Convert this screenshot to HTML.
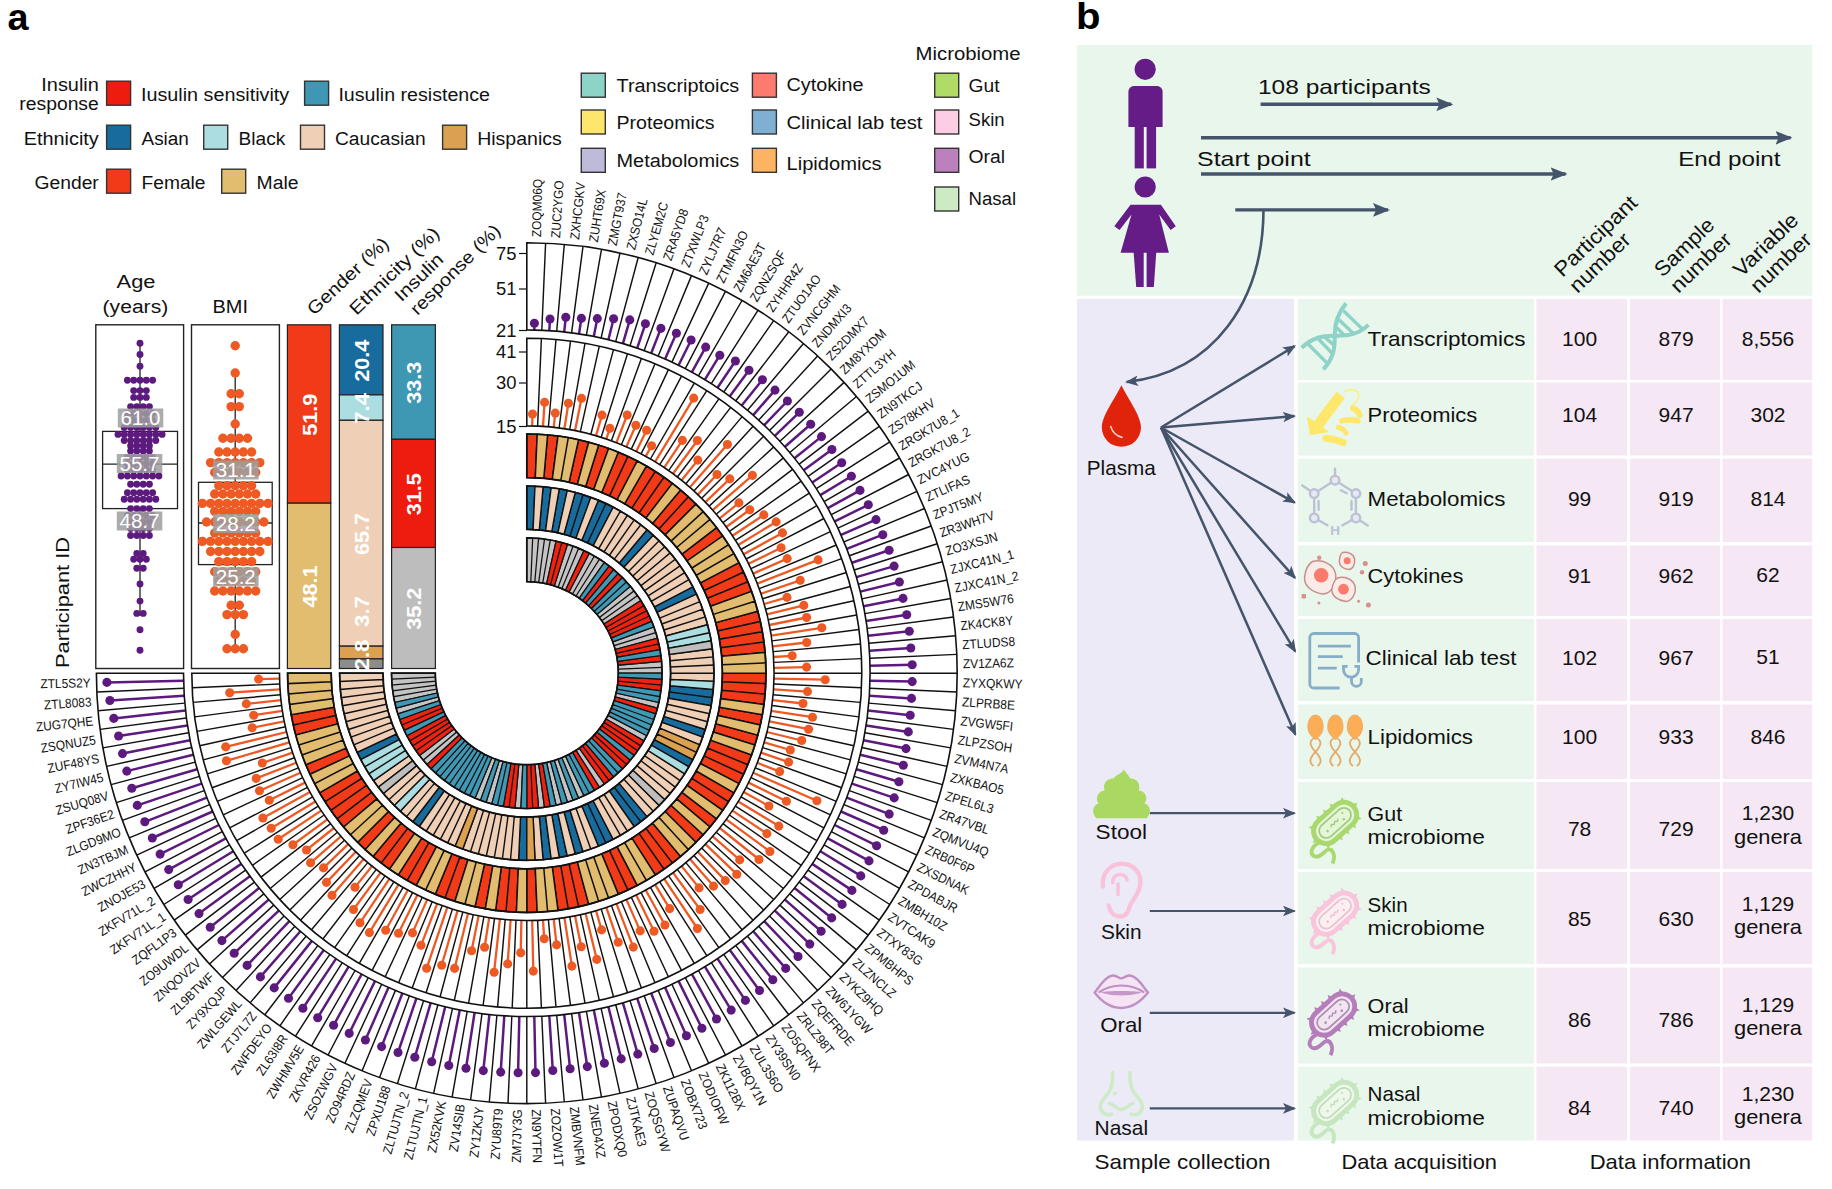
<!DOCTYPE html>
<html><head><meta charset="utf-8"><title>Figure</title>
<style>html,body{margin:0;padding:0;background:#fff;}svg{display:block;font-family:"Liberation Sans", sans-serif;}</style></head><body>
<svg width="1832" height="1189" viewBox="0 0 1832 1189">
<rect width="1832" height="1189" fill="#fff"/>
<path d="M541.8 330.2L545.6 243.2M556.7 331.2L564.3 244.4M571.6 332.8L583 246.5M586.4 335.1L601.5 249.3M601.1 338L620 253M615.7 341.6L638.2 257.5M630 345.8L656.2 262.7M644.2 350.6L674 268.8M658.2 356L691.5 275.6M671.9 362.1L708.7 283.1M685.3 368.7L725.5 291.4M698.4 375.9L742 300.5M711.3 383.7L758.1 310.2M723.7 392L773.7 320.6M735.8 400.8L788.8 331.7M747.5 410.2L803.5 343.5M758.7 420.1L817.6 355.9M769.5 430.5L831.1 368.9M779.9 441.3L844.1 382.4M789.8 452.5L856.5 396.5M799.2 464.2L868.3 411.2M808 476.3L879.4 426.3M816.3 488.7L889.8 441.9M824.1 501.6L899.5 458M831.3 514.7L908.6 474.5M837.9 528.1L916.9 491.3M844 541.8L924.4 508.5M849.4 555.8L931.2 526M854.2 570L937.3 543.8M858.4 584.3L942.5 561.8M862 598.9L947 580M864.9 613.6L950.7 598.5M867.2 628.4L953.5 617M868.8 643.3L955.6 635.7M869.8 658.2L956.8 654.4M870.1 673.2L957.2 673.2M869.8 688.2L956.8 692M868.8 703.1L955.6 710.7M867.2 718L953.5 729.4M864.9 732.8L950.7 747.9M862 747.5L947 766.4M858.4 762.1L942.5 784.6M854.2 776.4L937.3 802.6M849.4 790.6L931.2 820.4M844 804.6L924.4 837.9M837.9 818.3L916.9 855.1M831.3 831.7L908.6 871.9M824.1 844.8L899.5 888.4M816.3 857.7L889.8 904.5M808 870.1L879.4 920.1M799.2 882.2L868.3 935.2M789.8 893.9L856.5 949.9M779.9 905.1L844.1 964M769.5 915.9L831.1 977.5M758.7 926.3L817.6 990.5M747.5 936.2L803.5 1002.9M735.8 945.6L788.8 1014.7M723.7 954.4L773.7 1025.8M711.3 962.7L758.1 1036.2M698.4 970.5L742 1045.9M685.3 977.7L725.5 1055M671.9 984.3L708.7 1063.3M658.2 990.4L691.5 1070.8M644.2 995.8L674 1077.6M630 1000.6L656.2 1083.7M615.7 1004.8L638.2 1088.9M601.1 1008.4L620 1093.4M586.4 1011.3L601.5 1097.1M571.6 1013.6L583 1099.9M556.7 1015.2L564.3 1102M541.8 1016.2L545.6 1103.2M526.8 1016.5L526.8 1103.6M511.8 1016.2L508 1103.2M496.9 1015.2L489.3 1102M482 1013.6L470.6 1099.9M467.2 1011.3L452.1 1097.1M452.5 1008.4L433.6 1093.4M437.9 1004.8L415.4 1088.9M423.6 1000.6L397.4 1083.7M409.4 995.8L379.6 1077.6M395.4 990.4L362.1 1070.8M381.7 984.3L344.9 1063.3M368.3 977.7L328.1 1055M355.1 970.5L311.6 1045.9M342.3 962.7L295.5 1036.2M329.9 954.4L279.9 1025.8M317.8 945.6L264.8 1014.7M306.1 936.2L250.1 1002.9M294.9 926.3L236 990.5M284.1 915.9L222.5 977.5M273.7 905.1L209.5 964M263.8 893.9L197.1 949.9M254.4 882.2L185.3 935.2M245.6 870.1L174.2 920.1M237.3 857.7L163.8 904.5M229.5 844.9L154.1 888.4M222.3 831.7L145 871.9M215.7 818.3L136.7 855.1M209.6 804.6L129.2 837.9M204.2 790.6L122.4 820.4M199.4 776.4L116.3 802.6M195.2 762.1L111.1 784.6M191.6 747.5L106.6 766.4M188.7 732.8L102.9 747.9M186.4 718L100.1 729.4M184.8 703.1L98 710.7M183.8 688.2L96.8 692" stroke="#111" stroke-width="1.45" fill="none"/>
<path d="M534.3 330L534.4 323.3M549.3 330.6L550 319M564.2 331.9L565.8 317.3M579 333.9L581.4 318.4M593.8 336.5L597.3 318.6M608.4 339.7L613.6 318.7M622.9 343.6L629.8 319.9M637.2 348.1L645.4 323.8M651.2 353.2L660.9 328.4M665.1 359L676.4 333.2M678.6 365.3L691.1 340M691.9 372.2L705.7 347.1M704.9 379.7L719.8 355.2M717.5 387.8L735.4 361M729.8 396.3L749 370.2M741.7 405.5L762.4 379.7M753.2 415.1L775 390.1M764.2 425.2L787.4 401M774.8 435.8L799.3 412.3M784.9 446.8L810.7 424.2M794.5 458.3L821.5 436.6M803.7 470.2L831.9 449.5M812.2 482.5L841.7 462.8M820.3 495.1L851.4 476.2M827.8 508.1L860 490.4M834.7 521.4L868.3 504.8M841 534.9L876 519.6M846.8 548.8L882.8 534.7M851.9 562.8L889.1 550.2M856.4 577.1L894.1 566.1M860.3 591.6L899.4 582M863.5 606.2L903 598.4M866.1 621L906.7 614.7M868.1 635.8L909.3 631.3M869.4 650.7L910.8 648M870 665.7L912.2 664.8M870 680.7L912.2 681.6M869.4 695.7L911.5 698.4M868.1 710.6L910.2 715.2M866.1 725.4L908.3 731.9M863.5 740.2L906 748.6M860.3 754.8L903.3 765.3M856.4 769.3L898.9 781.7M851.9 783.6L894.2 797.9M846.8 797.6L889.2 814.1M841 811.5L883.7 830.2M834.7 825L876.6 845.7M827.8 838.3L869 860.9M820.3 851.3L860.8 875.9M812.2 863.9L851.9 890.4M803.7 876.2L842.1 904.4M794.5 888.1L831.7 917.9M784.9 899.6L821.1 931.3M774.8 910.6L809.8 944.1M764.2 921.2L798 956.5M753.2 931.3L785.7 968.4M741.7 940.9L772.8 979.8M729.8 950.1L759.5 990.5M717.5 958.6L745.4 1000.4M704.9 966.7L731.2 1010.1M691.9 974.2L716.5 1019M678.6 981.1L701.9 1028.3M665.1 987.4L686.4 1035.8M651.2 993.2L670.4 1042.5M637.2 998.3L654.2 1048.5M622.9 1002.8L637.8 1054.1M608.4 1006.7L621.2 1058.9M593.8 1009.9L604.4 1063.3M579 1012.5L587.3 1066.6M564.2 1014.5L570.1 1068.8M549.3 1015.8L552.8 1070.5M534.3 1016.4L535.5 1072.6M519.3 1016.4L518.1 1072.8M504.3 1015.8L500.7 1072.1M489.4 1014.5L483.3 1070.6M474.6 1012.5L466 1068.3M459.8 1009.9L448.8 1065.5M445.2 1006.7L431.7 1061.8M430.7 1002.8L414.8 1057.3M416.4 998.3L398 1052.5M402.4 993.2L381.6 1046.6M388.5 987.4L365.4 1040M375 981.1L349.2 1033.4M361.7 974.2L333.6 1025.3M348.7 966.7L317.7 1017.7M336.1 958.6L302.9 1008.3M323.8 950.1L288.5 998.2M311.9 940.9L274.2 987.9M300.4 931.3L260.4 976.9M289.4 921.2L247.1 965.4M278.8 910.6L234.2 953.3M268.7 899.6L221.9 940.6M259.1 888.1L210.2 927.3M249.9 876.2L199 913.6M241.4 863.9L188.1 899.5M233.3 851.3L178.3 884.7M225.8 838.3L168.7 869.6M218.9 825L160.1 854.1M212.6 811.5L152.3 838M206.8 797.6L144.8 821.8M201.7 783.6L137.3 805.4M197.2 769.3L131.8 788.3M193.3 754.8L126.8 771.1M190.1 740.2L122.5 753.6M187.5 725.4L118.6 736M185.5 710.6L113.8 718.4M184.2 695.7L109.9 700.5M183.6 680.7L106.9 682.4" stroke="#5C1A7E" stroke-width="2.5" fill="none"/>
<g fill="#5C1A7E"><circle cx="534.4" cy="323.3" r="4.55"/><circle cx="550" cy="319" r="4.55"/><circle cx="565.8" cy="317.3" r="4.55"/><circle cx="581.4" cy="318.4" r="4.55"/><circle cx="597.3" cy="318.6" r="4.55"/><circle cx="613.6" cy="318.7" r="4.55"/><circle cx="629.8" cy="319.9" r="4.55"/><circle cx="645.4" cy="323.8" r="4.55"/><circle cx="660.9" cy="328.4" r="4.55"/><circle cx="676.4" cy="333.2" r="4.55"/><circle cx="691.1" cy="340" r="4.55"/><circle cx="705.7" cy="347.1" r="4.55"/><circle cx="719.8" cy="355.2" r="4.55"/><circle cx="735.4" cy="361" r="4.55"/><circle cx="749" cy="370.2" r="4.55"/><circle cx="762.4" cy="379.7" r="4.55"/><circle cx="775" cy="390.1" r="4.55"/><circle cx="787.4" cy="401" r="4.55"/><circle cx="799.3" cy="412.3" r="4.55"/><circle cx="810.7" cy="424.2" r="4.55"/><circle cx="821.5" cy="436.6" r="4.55"/><circle cx="831.9" cy="449.5" r="4.55"/><circle cx="841.7" cy="462.8" r="4.55"/><circle cx="851.4" cy="476.2" r="4.55"/><circle cx="860" cy="490.4" r="4.55"/><circle cx="868.3" cy="504.8" r="4.55"/><circle cx="876" cy="519.6" r="4.55"/><circle cx="882.8" cy="534.7" r="4.55"/><circle cx="889.1" cy="550.2" r="4.55"/><circle cx="894.1" cy="566.1" r="4.55"/><circle cx="899.4" cy="582" r="4.55"/><circle cx="903" cy="598.4" r="4.55"/><circle cx="906.7" cy="614.7" r="4.55"/><circle cx="909.3" cy="631.3" r="4.55"/><circle cx="910.8" cy="648" r="4.55"/><circle cx="912.2" cy="664.8" r="4.55"/><circle cx="912.2" cy="681.6" r="4.55"/><circle cx="911.5" cy="698.4" r="4.55"/><circle cx="910.2" cy="715.2" r="4.55"/><circle cx="908.3" cy="731.9" r="4.55"/><circle cx="906" cy="748.6" r="4.55"/><circle cx="903.3" cy="765.3" r="4.55"/><circle cx="898.9" cy="781.7" r="4.55"/><circle cx="894.2" cy="797.9" r="4.55"/><circle cx="889.2" cy="814.1" r="4.55"/><circle cx="883.7" cy="830.2" r="4.55"/><circle cx="876.6" cy="845.7" r="4.55"/><circle cx="869" cy="860.9" r="4.55"/><circle cx="860.8" cy="875.9" r="4.55"/><circle cx="851.9" cy="890.4" r="4.55"/><circle cx="842.1" cy="904.4" r="4.55"/><circle cx="831.7" cy="917.9" r="4.55"/><circle cx="821.1" cy="931.3" r="4.55"/><circle cx="809.8" cy="944.1" r="4.55"/><circle cx="798" cy="956.5" r="4.55"/><circle cx="785.7" cy="968.4" r="4.55"/><circle cx="772.8" cy="979.8" r="4.55"/><circle cx="759.5" cy="990.5" r="4.55"/><circle cx="745.4" cy="1000.4" r="4.55"/><circle cx="731.2" cy="1010.1" r="4.55"/><circle cx="716.5" cy="1019" r="4.55"/><circle cx="701.9" cy="1028.3" r="4.55"/><circle cx="686.4" cy="1035.8" r="4.55"/><circle cx="670.4" cy="1042.5" r="4.55"/><circle cx="654.2" cy="1048.5" r="4.55"/><circle cx="637.8" cy="1054.1" r="4.55"/><circle cx="621.2" cy="1058.9" r="4.55"/><circle cx="604.4" cy="1063.3" r="4.55"/><circle cx="587.3" cy="1066.6" r="4.55"/><circle cx="570.1" cy="1068.8" r="4.55"/><circle cx="552.8" cy="1070.5" r="4.55"/><circle cx="535.5" cy="1072.6" r="4.55"/><circle cx="518.1" cy="1072.8" r="4.55"/><circle cx="500.7" cy="1072.1" r="4.55"/><circle cx="483.3" cy="1070.6" r="4.55"/><circle cx="466" cy="1068.3" r="4.55"/><circle cx="448.8" cy="1065.5" r="4.55"/><circle cx="431.7" cy="1061.8" r="4.55"/><circle cx="414.8" cy="1057.3" r="4.55"/><circle cx="398" cy="1052.5" r="4.55"/><circle cx="381.6" cy="1046.6" r="4.55"/><circle cx="365.4" cy="1040" r="4.55"/><circle cx="349.2" cy="1033.4" r="4.55"/><circle cx="333.6" cy="1025.3" r="4.55"/><circle cx="317.7" cy="1017.7" r="4.55"/><circle cx="302.9" cy="1008.3" r="4.55"/><circle cx="288.5" cy="998.2" r="4.55"/><circle cx="274.2" cy="987.9" r="4.55"/><circle cx="260.4" cy="976.9" r="4.55"/><circle cx="247.1" cy="965.4" r="4.55"/><circle cx="234.2" cy="953.3" r="4.55"/><circle cx="221.9" cy="940.6" r="4.55"/><circle cx="210.2" cy="927.3" r="4.55"/><circle cx="199" cy="913.6" r="4.55"/><circle cx="188.1" cy="899.5" r="4.55"/><circle cx="178.3" cy="884.7" r="4.55"/><circle cx="168.7" cy="869.6" r="4.55"/><circle cx="160.1" cy="854.1" r="4.55"/><circle cx="152.3" cy="838" r="4.55"/><circle cx="144.8" cy="821.8" r="4.55"/><circle cx="137.3" cy="805.4" r="4.55"/><circle cx="131.8" cy="788.3" r="4.55"/><circle cx="126.8" cy="771.1" r="4.55"/><circle cx="122.5" cy="753.6" r="4.55"/><circle cx="118.6" cy="736" r="4.55"/><circle cx="113.8" cy="718.4" r="4.55"/><circle cx="109.9" cy="700.5" r="4.55"/><circle cx="106.9" cy="682.4" r="4.55"/></g>
<path d="M526.8 242.8A430.4 430.4 0 1 1 96.4 673.2L183.5 673.2A343.3 343.3 0 1 0 526.8 329.9Z" fill="none" stroke="#111" stroke-width="1.6"/>
<path d="M537.6 426.1L541.4 338.5M548.4 426.8L556 339.5M559.1 428L570.5 341.1M569.7 429.7L585 343.3M580.3 431.8L599.3 346.1M590.8 434.3L613.5 349.6M601.2 437.3L627.5 353.7M611.4 440.8L641.4 358.4M621.4 444.7L655 363.7M631.3 449.1L668.4 369.6M641 453.8L681.5 376.1M650.4 459L694.3 383.1M659.7 464.6L706.8 390.7M668.6 470.6L718.9 398.8M677.3 477L730.7 407.4M685.8 483.8L742.1 416.6M693.9 490.9L753.1 426.2M701.7 498.3L763.7 436.3M709.1 506.1L773.8 446.9M716.2 514.2L783.4 457.9M723 522.7L792.6 469.3M729.4 531.4L801.2 481.1M735.4 540.3L809.3 493.2M741 549.5L816.9 505.7M746.2 559L823.9 518.5M750.9 568.7L830.4 531.6M755.3 578.6L836.3 545M759.2 588.6L841.6 558.6M762.7 598.8L846.3 572.5M765.7 609.2L850.4 586.5M768.2 619.7L853.9 600.7M770.3 630.3L856.7 615M772 640.9L858.9 629.5M773.2 651.6L860.5 644M773.9 662.4L861.5 658.6M774.1 673.2L861.8 673.2M773.9 684L861.5 687.8M773.2 694.8L860.5 702.4M772 705.5L858.9 716.9M770.3 716.1L856.7 731.4M768.2 726.7L853.9 745.7M765.7 737.2L850.4 759.9M762.7 747.6L846.3 773.9M759.2 757.8L841.6 787.8M755.3 767.8L836.3 801.4M750.9 777.7L830.4 814.8M746.2 787.4L823.9 827.9M741 796.9L816.9 840.7M735.4 806.1L809.3 853.2M729.4 815L801.2 865.3M723 823.7L792.6 877.1M716.2 832.2L783.4 888.5M709.1 840.3L773.8 899.5M701.7 848.1L763.7 910.1M693.9 855.5L753.1 920.2M685.8 862.6L742.1 929.8M677.3 869.4L730.7 939M668.6 875.8L718.9 947.6M659.7 881.8L706.8 955.7M650.4 887.4L694.3 963.3M641 892.6L681.5 970.3M631.3 897.3L668.4 976.8M621.4 901.7L655 982.7M611.4 905.6L641.4 988M601.2 909.1L627.5 992.7M590.8 912.1L613.5 996.8M580.3 914.6L599.3 1000.3M569.7 916.7L585 1003.1M559.1 918.4L570.5 1005.3M548.4 919.6L556 1006.9M537.6 920.3L541.4 1007.9M526.8 920.5L526.8 1008.2M516 920.3L512.2 1007.9M505.2 919.6L497.6 1006.9M494.5 918.4L483.1 1005.3M483.9 916.7L468.6 1003.1M473.3 914.6L454.3 1000.3M462.8 912.1L440.1 996.8M452.4 909.1L426.1 992.7M442.2 905.6L412.2 988M432.2 901.7L398.6 982.7M422.3 897.3L385.2 976.8M412.6 892.6L372.1 970.3M403.1 887.4L359.3 963.3M393.9 881.8L346.8 955.7M385 875.8L334.7 947.6M376.3 869.4L322.9 939M367.8 862.6L311.5 929.8M359.7 855.5L300.5 920.2M351.9 848.1L289.9 910.1M344.5 840.3L279.8 899.5M337.4 832.2L270.2 888.5M330.6 823.7L261 877.1M324.2 815L252.4 865.3M318.2 806.1L244.3 853.2M312.6 796.9L236.7 840.7M307.4 787.4L229.7 827.9M302.7 777.7L223.2 814.8M298.3 767.8L217.3 801.4M294.4 757.8L212 787.8M290.9 747.6L207.3 773.9M287.9 737.2L203.2 759.9M285.4 726.7L199.7 745.7M283.3 716.1L196.9 731.4M281.6 705.5L194.7 716.9M280.4 694.8L193.1 702.4M279.7 684L192.1 687.8" stroke="#111" stroke-width="1.45" fill="none"/>
<path d="M532.2 426L532.5 414M543 426.4L544.6 402.4M553.7 427.4L555.3 413.1M564.4 428.8L568.4 403.2M575 430.7L581.5 398.4M596 435.8L602 415.1M606.3 439L609.9 428.4M616.4 442.7L627.2 415M626.4 446.8L635.9 425.2M636.2 451.4L646.6 430.2M645.7 456.4L651.6 445.8M655.1 461.8L693.7 398.1M664.2 467.6L682.4 440.4M673 473.8L697.4 440.5M681.6 480.3L697.8 460.1M689.9 487.3L727.4 444.5M697.8 494.6L717 474.5M705.4 502.2L729.8 478.9M712.7 510.1L752.4 475.4M719.7 518.4L738.9 502.9M726.2 527L749.8 509.7M732.4 535.8L763.8 514.9M738.2 544.9L776.1 521.9M743.6 554.3L782.5 532.9M748.6 563.8L781.1 547.8M753.2 573.6L787.2 558.6M757.3 583.6L818.1 559.9M761 593.7L800.2 580.4M764.2 604L787 597.4M767 614.4L803.8 605.4M769.3 625L806.6 617.5M771.2 635.6L821.8 627.8M772.6 646.3L806.7 642.5M773.6 657L792.2 655.8M774 667.8L806.6 667.1M774 678.6L825.2 679.7M773.6 689.4L807.5 691.6M772.6 700.1L803 703.5M771.2 710.8L812.5 717.2M769.3 721.4L808.6 729.2M767 732L801.7 740.5M764.2 742.4L790.3 750M761 752.7L788.6 762.1M757.3 762.8L779.7 771.6M753.2 772.8L816.9 800.8M748.6 782.6L786.4 801.2M743.6 792.1L768.9 806M738.2 801.5L778.8 826.1M732.4 810.6L766.9 833.6M726.2 819.4L769.9 851.5M719.7 828L759 859.5M712.7 836.3L739.7 859.9M705.4 844.2L736.8 874.2M697.8 851.8L725.3 880.6M689.9 859.1L713.5 886.1M681.6 866.1L699.1 887.9M673 872.6L700.1 909.5M664.2 878.8L697.4 928.5M655.1 884.6L669.7 908.6M645.7 890L664.9 925M636.2 895L654 931.2M626.4 899.6L640.2 930.9M616.4 903.7L633.3 947.1M606.3 907.4L618.2 942.3M596 910.6L601.6 929.9M585.6 913.4L596.8 959.4M575 915.7L581.2 946.8M564.4 917.6L571.9 966.1M553.7 919L556.6 944.9M543 920L544.2 938.7M532.2 920.4L533.3 971.1M521.4 920.4L520.7 952.7M510.6 920L507.7 963.9M499.9 919L494.1 972.2M489.2 917.6L484.6 947.2M478.6 915.7L471.6 950.8M468 913.4L454.6 968.4M457.6 910.6L441.7 965.2M447.3 907.4L426.6 968.3M437.2 903.7L421 945.3M427.2 899.6L412.5 932.9M417.4 895L398.5 933.3M407.9 890L385.7 930.3M398.5 884.6L369.4 932.6M389.4 878.8L360 922.8M380.6 872.6L353.5 909.5M372 866.1L355 887.2M363.7 859.1L332 895.4M355.8 851.8L326.5 882.4M348.2 844.2L323.5 867.9M340.9 836.3L310.6 862.8M333.9 828L306.5 850M327.4 819.4L292.9 844.7M321.2 810.6L278.2 839.3M315.4 801.5L271.2 828.3M310 792.1L262.9 818M305 782.6L269.3 800.2M300.4 772.8L259.5 790.8M296.3 762.8L256.2 778.4M292.6 752.7L262.3 763M289.4 742.4L226.4 760.8M286.6 732L225.7 746.9M284.3 721.4L252.2 727.8M282.4 710.8L253.7 715.2M281 700.1L246.3 703.9M280 689.4L229.7 692.7M279.6 678.6L258.6 679.1" stroke="#EE5A24" stroke-width="2.3" fill="none"/>
<g fill="#EE5A24"><circle cx="532.5" cy="414" r="4.55"/><circle cx="544.6" cy="402.4" r="4.55"/><circle cx="555.3" cy="413.1" r="4.55"/><circle cx="568.4" cy="403.2" r="4.55"/><circle cx="581.5" cy="398.4" r="4.55"/><circle cx="602" cy="415.1" r="4.55"/><circle cx="609.9" cy="428.4" r="4.55"/><circle cx="627.2" cy="415" r="4.55"/><circle cx="635.9" cy="425.2" r="4.55"/><circle cx="646.6" cy="430.2" r="4.55"/><circle cx="651.6" cy="445.8" r="4.55"/><circle cx="693.7" cy="398.1" r="4.55"/><circle cx="682.4" cy="440.4" r="4.55"/><circle cx="697.4" cy="440.5" r="4.55"/><circle cx="697.8" cy="460.1" r="4.55"/><circle cx="727.4" cy="444.5" r="4.55"/><circle cx="717" cy="474.5" r="4.55"/><circle cx="729.8" cy="478.9" r="4.55"/><circle cx="752.4" cy="475.4" r="4.55"/><circle cx="738.9" cy="502.9" r="4.55"/><circle cx="749.8" cy="509.7" r="4.55"/><circle cx="763.8" cy="514.9" r="4.55"/><circle cx="776.1" cy="521.9" r="4.55"/><circle cx="782.5" cy="532.9" r="4.55"/><circle cx="781.1" cy="547.8" r="4.55"/><circle cx="787.2" cy="558.6" r="4.55"/><circle cx="818.1" cy="559.9" r="4.55"/><circle cx="800.2" cy="580.4" r="4.55"/><circle cx="787" cy="597.4" r="4.55"/><circle cx="803.8" cy="605.4" r="4.55"/><circle cx="806.6" cy="617.5" r="4.55"/><circle cx="821.8" cy="627.8" r="4.55"/><circle cx="806.7" cy="642.5" r="4.55"/><circle cx="792.2" cy="655.8" r="4.55"/><circle cx="806.6" cy="667.1" r="4.55"/><circle cx="825.2" cy="679.7" r="4.55"/><circle cx="807.5" cy="691.6" r="4.55"/><circle cx="803" cy="703.5" r="4.55"/><circle cx="812.5" cy="717.2" r="4.55"/><circle cx="808.6" cy="729.2" r="4.55"/><circle cx="801.7" cy="740.5" r="4.55"/><circle cx="790.3" cy="750" r="4.55"/><circle cx="788.6" cy="762.1" r="4.55"/><circle cx="779.7" cy="771.6" r="4.55"/><circle cx="816.9" cy="800.8" r="4.55"/><circle cx="786.4" cy="801.2" r="4.55"/><circle cx="768.9" cy="806" r="4.55"/><circle cx="778.8" cy="826.1" r="4.55"/><circle cx="766.9" cy="833.6" r="4.55"/><circle cx="769.9" cy="851.5" r="4.55"/><circle cx="759" cy="859.5" r="4.55"/><circle cx="739.7" cy="859.9" r="4.55"/><circle cx="736.8" cy="874.2" r="4.55"/><circle cx="725.3" cy="880.6" r="4.55"/><circle cx="713.5" cy="886.1" r="4.55"/><circle cx="699.1" cy="887.9" r="4.55"/><circle cx="700.1" cy="909.5" r="4.55"/><circle cx="697.4" cy="928.5" r="4.55"/><circle cx="669.7" cy="908.6" r="4.55"/><circle cx="664.9" cy="925" r="4.55"/><circle cx="654" cy="931.2" r="4.55"/><circle cx="640.2" cy="930.9" r="4.55"/><circle cx="633.3" cy="947.1" r="4.55"/><circle cx="618.2" cy="942.3" r="4.55"/><circle cx="601.6" cy="929.9" r="4.55"/><circle cx="596.8" cy="959.4" r="4.55"/><circle cx="581.2" cy="946.8" r="4.55"/><circle cx="571.9" cy="966.1" r="4.55"/><circle cx="556.6" cy="944.9" r="4.55"/><circle cx="544.2" cy="938.7" r="4.55"/><circle cx="533.3" cy="971.1" r="4.55"/><circle cx="520.7" cy="952.7" r="4.55"/><circle cx="507.7" cy="963.9" r="4.55"/><circle cx="494.1" cy="972.2" r="4.55"/><circle cx="484.6" cy="947.2" r="4.55"/><circle cx="471.6" cy="950.8" r="4.55"/><circle cx="454.6" cy="968.4" r="4.55"/><circle cx="441.7" cy="965.2" r="4.55"/><circle cx="426.6" cy="968.3" r="4.55"/><circle cx="421" cy="945.3" r="4.55"/><circle cx="412.5" cy="932.9" r="4.55"/><circle cx="398.5" cy="933.3" r="4.55"/><circle cx="385.7" cy="930.3" r="4.55"/><circle cx="369.4" cy="932.6" r="4.55"/><circle cx="360" cy="922.8" r="4.55"/><circle cx="353.5" cy="909.5" r="4.55"/><circle cx="355" cy="887.2" r="4.55"/><circle cx="332" cy="895.4" r="4.55"/><circle cx="326.5" cy="882.4" r="4.55"/><circle cx="323.5" cy="867.9" r="4.55"/><circle cx="310.6" cy="862.8" r="4.55"/><circle cx="306.5" cy="850" r="4.55"/><circle cx="292.9" cy="844.7" r="4.55"/><circle cx="278.2" cy="839.3" r="4.55"/><circle cx="271.2" cy="828.3" r="4.55"/><circle cx="262.9" cy="818" r="4.55"/><circle cx="269.3" cy="800.2" r="4.55"/><circle cx="259.5" cy="790.8" r="4.55"/><circle cx="256.2" cy="778.4" r="4.55"/><circle cx="262.3" cy="763" r="4.55"/><circle cx="226.4" cy="760.8" r="4.55"/><circle cx="225.7" cy="746.9" r="4.55"/><circle cx="252.2" cy="727.8" r="4.55"/><circle cx="253.7" cy="715.2" r="4.55"/><circle cx="246.3" cy="703.9" r="4.55"/><circle cx="229.7" cy="692.7" r="4.55"/><circle cx="258.6" cy="679.1" r="4.55"/></g>
<path d="M526.8 338.2A335 335 0 1 1 191.8 673.2L279.5 673.2A247.3 247.3 0 1 0 526.8 425.9Z" fill="none" stroke="#111" stroke-width="1.6"/>
<path d="M526.8 434A239.2 239.2 0 0 1 537.2 434.2L535.3 477.8A195.6 195.6 0 0 0 526.8 477.6ZM547.6 434.9A239.2 239.2 0 0 1 558 436L552.3 479.3A195.6 195.6 0 0 0 543.8 478.3ZM578.6 439.7A239.2 239.2 0 0 1 588.7 442.2L577.4 484.3A195.6 195.6 0 0 0 569.1 482.2ZM598.7 445.1A239.2 239.2 0 0 1 608.6 448.4L593.7 489.4A195.6 195.6 0 0 0 585.6 486.7ZM618.3 452.2A239.2 239.2 0 0 1 627.9 456.4L609.5 495.9A195.6 195.6 0 0 0 601.7 492.5ZM627.9 456.4A239.2 239.2 0 0 1 637.3 461L617.1 499.7A195.6 195.6 0 0 0 609.5 495.9ZM646.4 466A239.2 239.2 0 0 1 655.3 471.5L631.9 508.2A195.6 195.6 0 0 0 624.6 503.8ZM655.3 471.5A239.2 239.2 0 0 1 664 477.3L639 513A195.6 195.6 0 0 0 631.9 508.2ZM664 477.3A239.2 239.2 0 0 1 672.4 483.4L645.9 518A195.6 195.6 0 0 0 639 513ZM680.6 490A239.2 239.2 0 0 1 688.4 496.8L658.9 529A195.6 195.6 0 0 0 652.5 523.4ZM688.4 496.8A239.2 239.2 0 0 1 695.9 504.1L665.1 534.9A195.6 195.6 0 0 0 658.9 529ZM716.6 527.6A239.2 239.2 0 0 1 722.7 536L687 561A195.6 195.6 0 0 0 682 554.1ZM739 562.7A239.2 239.2 0 0 1 743.6 572.1L704.1 590.5A195.6 195.6 0 0 0 700.3 582.9ZM743.6 572.1A239.2 239.2 0 0 1 747.8 581.7L707.5 598.3A195.6 195.6 0 0 0 704.1 590.5ZM747.8 581.7A239.2 239.2 0 0 1 751.6 591.4L710.6 606.3A195.6 195.6 0 0 0 707.5 598.3ZM757.8 611.3A239.2 239.2 0 0 1 760.3 621.4L717.8 630.9A195.6 195.6 0 0 0 715.7 622.6ZM760.3 621.4A239.2 239.2 0 0 1 762.4 631.7L719.4 639.2A195.6 195.6 0 0 0 717.8 630.9ZM762.4 631.7A239.2 239.2 0 0 1 764 642L720.7 647.7A195.6 195.6 0 0 0 719.4 639.2ZM764 642A239.2 239.2 0 0 1 765.1 652.4L721.7 656.2A195.6 195.6 0 0 0 720.7 647.7ZM766 673.2A239.2 239.2 0 0 1 765.8 683.6L722.2 681.7A195.6 195.6 0 0 0 722.4 673.2ZM765.8 683.6A239.2 239.2 0 0 1 765.1 694L721.7 690.2A195.6 195.6 0 0 0 722.2 681.7ZM765.1 694A239.2 239.2 0 0 1 764 704.4L720.7 698.7A195.6 195.6 0 0 0 721.7 690.2ZM762.4 714.7A239.2 239.2 0 0 1 760.3 725L717.8 715.5A195.6 195.6 0 0 0 719.4 707.2ZM757.8 735.1A239.2 239.2 0 0 1 754.9 745.1L713.3 732A195.6 195.6 0 0 0 715.7 723.8ZM751.6 755A239.2 239.2 0 0 1 747.8 764.7L707.5 748.1A195.6 195.6 0 0 0 710.6 740.1ZM747.8 764.7A239.2 239.2 0 0 1 743.6 774.3L704.1 755.9A195.6 195.6 0 0 0 707.5 748.1ZM743.6 774.3A239.2 239.2 0 0 1 739 783.7L700.3 763.5A195.6 195.6 0 0 0 704.1 755.9ZM734 792.8A239.2 239.2 0 0 1 728.5 801.7L691.8 778.3A195.6 195.6 0 0 0 696.2 771ZM728.5 801.7A239.2 239.2 0 0 1 722.7 810.4L687 785.4A195.6 195.6 0 0 0 691.8 778.3ZM716.6 818.8A239.2 239.2 0 0 1 710 827L676.6 798.9A195.6 195.6 0 0 0 682 792.3ZM703.2 834.8A239.2 239.2 0 0 1 695.9 842.3L665.1 811.5A195.6 195.6 0 0 0 671 805.3ZM680.6 856.4A239.2 239.2 0 0 1 672.4 863L645.9 828.4A195.6 195.6 0 0 0 652.5 823ZM672.4 863A239.2 239.2 0 0 1 664 869.1L639 833.4A195.6 195.6 0 0 0 645.9 828.4ZM664 869.1A239.2 239.2 0 0 1 655.3 874.9L631.9 838.2A195.6 195.6 0 0 0 639 833.4ZM637.3 885.4A239.2 239.2 0 0 1 627.9 890L609.5 850.5A195.6 195.6 0 0 0 617.1 846.7ZM627.9 890A239.2 239.2 0 0 1 618.3 894.2L601.7 853.9A195.6 195.6 0 0 0 609.5 850.5ZM588.7 904.2A239.2 239.2 0 0 1 578.6 906.7L569.1 864.2A195.6 195.6 0 0 0 577.4 862.1ZM578.6 906.7A239.2 239.2 0 0 1 568.3 908.8L560.8 865.8A195.6 195.6 0 0 0 569.1 864.2ZM568.3 908.8A239.2 239.2 0 0 1 558 910.4L552.3 867.1A195.6 195.6 0 0 0 560.8 865.8ZM537.2 912.2A239.2 239.2 0 0 1 526.8 912.4L526.8 868.8A195.6 195.6 0 0 0 535.3 868.6ZM516.4 912.2A239.2 239.2 0 0 1 506 911.5L509.8 868.1A195.6 195.6 0 0 0 518.3 868.6ZM506 911.5A239.2 239.2 0 0 1 495.6 910.4L501.3 867.1A195.6 195.6 0 0 0 509.8 868.1ZM485.3 908.8A239.2 239.2 0 0 1 475 906.7L484.5 864.2A195.6 195.6 0 0 0 492.8 865.8ZM454.9 901.3A239.2 239.2 0 0 1 445 898L459.9 857A195.6 195.6 0 0 0 468 859.7ZM445 898A239.2 239.2 0 0 1 435.3 894.2L451.9 853.9A195.6 195.6 0 0 0 459.9 857ZM416.3 885.4A239.2 239.2 0 0 1 407.2 880.4L429 842.6A195.6 195.6 0 0 0 436.5 846.7ZM407.2 880.4A239.2 239.2 0 0 1 398.3 874.9L421.7 838.2A195.6 195.6 0 0 0 429 842.6ZM389.6 869.1A239.2 239.2 0 0 1 381.2 863L407.7 828.4A195.6 195.6 0 0 0 414.6 833.4ZM381.2 863A239.2 239.2 0 0 1 373 856.4L401.1 823A195.6 195.6 0 0 0 407.7 828.4ZM365.2 849.6A239.2 239.2 0 0 1 357.7 842.3L388.5 811.5A195.6 195.6 0 0 0 394.7 817.4ZM343.6 827A239.2 239.2 0 0 1 337 818.8L371.6 792.3A195.6 195.6 0 0 0 377 798.9ZM337 818.8A239.2 239.2 0 0 1 330.9 810.4L366.6 785.4A195.6 195.6 0 0 0 371.6 792.3ZM330.9 810.4A239.2 239.2 0 0 1 325.1 801.7L361.8 778.3A195.6 195.6 0 0 0 366.6 785.4ZM325.1 801.7A239.2 239.2 0 0 1 319.6 792.8L357.4 771A195.6 195.6 0 0 0 361.8 778.3ZM310 774.3A239.2 239.2 0 0 1 305.8 764.7L346.1 748.1A195.6 195.6 0 0 0 349.5 755.9ZM295.8 735.1A239.2 239.2 0 0 1 293.3 725L335.8 715.5A195.6 195.6 0 0 0 337.9 723.8ZM293.3 725A239.2 239.2 0 0 1 291.2 714.7L334.2 707.2A195.6 195.6 0 0 0 335.8 715.5Z" fill="#F03A18" stroke="#111" stroke-width="1.5" stroke-linejoin="miter"/>
<path d="M537.2 434.2A239.2 239.2 0 0 1 547.6 434.9L543.8 478.3A195.6 195.6 0 0 0 535.3 477.8ZM558 436A239.2 239.2 0 0 1 568.3 437.6L560.8 480.6A195.6 195.6 0 0 0 552.3 479.3ZM568.3 437.6A239.2 239.2 0 0 1 578.6 439.7L569.1 482.2A195.6 195.6 0 0 0 560.8 480.6ZM588.7 442.2A239.2 239.2 0 0 1 598.7 445.1L585.6 486.7A195.6 195.6 0 0 0 577.4 484.3ZM608.6 448.4A239.2 239.2 0 0 1 618.3 452.2L601.7 492.5A195.6 195.6 0 0 0 593.7 489.4ZM637.3 461A239.2 239.2 0 0 1 646.4 466L624.6 503.8A195.6 195.6 0 0 0 617.1 499.7ZM672.4 483.4A239.2 239.2 0 0 1 680.6 490L652.5 523.4A195.6 195.6 0 0 0 645.9 518ZM695.9 504.1A239.2 239.2 0 0 1 703.2 511.6L671 541.1A195.6 195.6 0 0 0 665.1 534.9ZM703.2 511.6A239.2 239.2 0 0 1 710 519.4L676.6 547.5A195.6 195.6 0 0 0 671 541.1ZM710 519.4A239.2 239.2 0 0 1 716.6 527.6L682 554.1A195.6 195.6 0 0 0 676.6 547.5ZM722.7 536A239.2 239.2 0 0 1 728.5 544.7L691.8 568.1A195.6 195.6 0 0 0 687 561ZM728.5 544.7A239.2 239.2 0 0 1 734 553.6L696.2 575.4A195.6 195.6 0 0 0 691.8 568.1ZM734 553.6A239.2 239.2 0 0 1 739 562.7L700.3 582.9A195.6 195.6 0 0 0 696.2 575.4ZM751.6 591.4A239.2 239.2 0 0 1 754.9 601.3L713.3 614.4A195.6 195.6 0 0 0 710.6 606.3ZM754.9 601.3A239.2 239.2 0 0 1 757.8 611.3L715.7 622.6A195.6 195.6 0 0 0 713.3 614.4ZM765.1 652.4A239.2 239.2 0 0 1 765.8 662.8L722.2 664.7A195.6 195.6 0 0 0 721.7 656.2ZM765.8 662.8A239.2 239.2 0 0 1 766 673.2L722.4 673.2A195.6 195.6 0 0 0 722.2 664.7ZM764 704.4A239.2 239.2 0 0 1 762.4 714.7L719.4 707.2A195.6 195.6 0 0 0 720.7 698.7ZM760.3 725A239.2 239.2 0 0 1 757.8 735.1L715.7 723.8A195.6 195.6 0 0 0 717.8 715.5ZM754.9 745.1A239.2 239.2 0 0 1 751.6 755L710.6 740.1A195.6 195.6 0 0 0 713.3 732ZM739 783.7A239.2 239.2 0 0 1 734 792.8L696.2 771A195.6 195.6 0 0 0 700.3 763.5ZM722.7 810.4A239.2 239.2 0 0 1 716.6 818.8L682 792.3A195.6 195.6 0 0 0 687 785.4ZM710 827A239.2 239.2 0 0 1 703.2 834.8L671 805.3A195.6 195.6 0 0 0 676.6 798.9ZM695.9 842.3A239.2 239.2 0 0 1 688.4 849.6L658.9 817.4A195.6 195.6 0 0 0 665.1 811.5ZM688.4 849.6A239.2 239.2 0 0 1 680.6 856.4L652.5 823A195.6 195.6 0 0 0 658.9 817.4ZM655.3 874.9A239.2 239.2 0 0 1 646.4 880.4L624.6 842.6A195.6 195.6 0 0 0 631.9 838.2ZM646.4 880.4A239.2 239.2 0 0 1 637.3 885.4L617.1 846.7A195.6 195.6 0 0 0 624.6 842.6ZM618.3 894.2A239.2 239.2 0 0 1 608.6 898L593.7 857A195.6 195.6 0 0 0 601.7 853.9ZM608.6 898A239.2 239.2 0 0 1 598.7 901.3L585.6 859.7A195.6 195.6 0 0 0 593.7 857ZM598.7 901.3A239.2 239.2 0 0 1 588.7 904.2L577.4 862.1A195.6 195.6 0 0 0 585.6 859.7ZM558 910.4A239.2 239.2 0 0 1 547.6 911.5L543.8 868.1A195.6 195.6 0 0 0 552.3 867.1ZM547.6 911.5A239.2 239.2 0 0 1 537.2 912.2L535.3 868.6A195.6 195.6 0 0 0 543.8 868.1ZM526.8 912.4A239.2 239.2 0 0 1 516.4 912.2L518.3 868.6A195.6 195.6 0 0 0 526.8 868.8ZM495.6 910.4A239.2 239.2 0 0 1 485.3 908.8L492.8 865.8A195.6 195.6 0 0 0 501.3 867.1ZM475 906.7A239.2 239.2 0 0 1 464.9 904.2L476.2 862.1A195.6 195.6 0 0 0 484.5 864.2ZM464.9 904.2A239.2 239.2 0 0 1 454.9 901.3L468 859.7A195.6 195.6 0 0 0 476.2 862.1ZM435.3 894.2A239.2 239.2 0 0 1 425.7 890L444.1 850.5A195.6 195.6 0 0 0 451.9 853.9ZM425.7 890A239.2 239.2 0 0 1 416.3 885.4L436.5 846.7A195.6 195.6 0 0 0 444.1 850.5ZM398.3 874.9A239.2 239.2 0 0 1 389.6 869.1L414.6 833.4A195.6 195.6 0 0 0 421.7 838.2ZM373 856.4A239.2 239.2 0 0 1 365.2 849.6L394.7 817.4A195.6 195.6 0 0 0 401.1 823ZM357.7 842.3A239.2 239.2 0 0 1 350.4 834.8L382.6 805.3A195.6 195.6 0 0 0 388.5 811.5ZM350.4 834.8A239.2 239.2 0 0 1 343.6 827L377 798.9A195.6 195.6 0 0 0 382.6 805.3ZM319.6 792.8A239.2 239.2 0 0 1 314.6 783.7L353.3 763.5A195.6 195.6 0 0 0 357.4 771ZM314.6 783.7A239.2 239.2 0 0 1 310 774.3L349.5 755.9A195.6 195.6 0 0 0 353.3 763.5ZM305.8 764.7A239.2 239.2 0 0 1 302 755L343 740.1A195.6 195.6 0 0 0 346.1 748.1ZM302 755A239.2 239.2 0 0 1 298.7 745.1L340.3 732A195.6 195.6 0 0 0 343 740.1ZM298.7 745.1A239.2 239.2 0 0 1 295.8 735.1L337.9 723.8A195.6 195.6 0 0 0 340.3 732ZM291.2 714.7A239.2 239.2 0 0 1 289.6 704.4L332.9 698.7A195.6 195.6 0 0 0 334.2 707.2ZM289.6 704.4A239.2 239.2 0 0 1 288.5 694L331.9 690.2A195.6 195.6 0 0 0 332.9 698.7ZM288.5 694A239.2 239.2 0 0 1 287.8 683.6L331.4 681.7A195.6 195.6 0 0 0 331.9 690.2ZM287.8 683.6A239.2 239.2 0 0 1 287.6 673.2L331.2 673.2A195.6 195.6 0 0 0 331.4 681.7Z" fill="#E2BC6F" stroke="#111" stroke-width="1.5" stroke-linejoin="miter"/>
<path d="M526.8 434A239.2 239.2 0 1 1 287.6 673.2L331.2 673.2A195.6 195.6 0 1 0 526.8 477.6Z" fill="none" stroke="#111" stroke-width="1.7"/>
<path d="M526.8 486A187.2 187.2 0 0 1 535 486.2L533.1 529.5A143.8 143.8 0 0 0 526.8 529.4ZM543.1 486.7A187.2 187.2 0 0 1 551.2 487.6L545.6 530.6A143.8 143.8 0 0 0 539.3 529.9ZM559.3 488.8A187.2 187.2 0 0 1 567.3 490.4L557.9 532.8A143.8 143.8 0 0 0 551.8 531.6ZM575.3 492.4A187.2 187.2 0 0 1 583.1 494.7L570 536.1A143.8 143.8 0 0 0 564 534.3ZM583.1 494.7A187.2 187.2 0 0 1 590.8 497.3L576 538.1A143.8 143.8 0 0 0 570 536.1ZM598.4 500.2A187.2 187.2 0 0 1 605.9 503.5L587.6 542.9A143.8 143.8 0 0 0 581.8 540.3ZM605.9 503.5A187.2 187.2 0 0 1 613.2 507.2L593.2 545.6A143.8 143.8 0 0 0 587.6 542.9ZM647.1 529.8A187.2 187.2 0 0 1 653.3 535.2L623.9 567.2A143.8 143.8 0 0 0 619.2 563ZM692.8 586.8A187.2 187.2 0 0 1 696.5 594.1L657.1 612.4A143.8 143.8 0 0 0 654.4 606.8ZM713.3 689.5A187.2 187.2 0 0 1 712.4 697.6L669.4 692A143.8 143.8 0 0 0 670.1 685.7ZM712.4 697.6A187.2 187.2 0 0 1 711.2 705.7L668.4 698.2A143.8 143.8 0 0 0 669.4 692ZM705.3 729.5A187.2 187.2 0 0 1 702.7 737.2L661.9 722.4A143.8 143.8 0 0 0 663.9 716.4ZM692.8 759.6A187.2 187.2 0 0 1 688.9 766.8L651.3 745.1A143.8 143.8 0 0 0 654.4 739.6ZM647.1 816.6A187.2 187.2 0 0 1 640.8 821.7L614.3 787.3A143.8 143.8 0 0 0 619.2 783.4ZM640.8 821.7A187.2 187.2 0 0 1 634.2 826.5L609.3 791A143.8 143.8 0 0 0 614.3 787.3ZM613.2 839.2A187.2 187.2 0 0 1 605.9 842.9L587.6 803.5A143.8 143.8 0 0 0 593.2 800.8ZM605.9 842.9A187.2 187.2 0 0 1 598.4 846.2L581.8 806.1A143.8 143.8 0 0 0 587.6 803.5ZM583.1 851.7A187.2 187.2 0 0 1 575.3 854L564 812.1A143.8 143.8 0 0 0 570 810.3ZM567.3 856A187.2 187.2 0 0 1 559.3 857.6L551.8 814.8A143.8 143.8 0 0 0 557.9 813.6ZM551.2 858.8A187.2 187.2 0 0 1 543.1 859.7L539.3 816.5A143.8 143.8 0 0 0 545.6 815.8ZM526.8 860.4A187.2 187.2 0 0 1 518.6 860.2L520.5 816.9A143.8 143.8 0 0 0 526.8 817ZM419.4 826.5A187.2 187.2 0 0 1 412.8 821.7L439.3 787.3A143.8 143.8 0 0 0 444.3 791ZM360.8 759.6A187.2 187.2 0 0 1 357.1 752.3L396.5 734A143.8 143.8 0 0 0 399.2 739.6Z" fill="#176B9D" stroke="#111" stroke-width="1.4" stroke-linejoin="miter"/>
<path d="M535 486.2A187.2 187.2 0 0 1 543.1 486.7L539.3 529.9A143.8 143.8 0 0 0 533.1 529.5ZM551.2 487.6A187.2 187.2 0 0 1 559.3 488.8L551.8 531.6A143.8 143.8 0 0 0 545.6 530.6ZM567.3 490.4A187.2 187.2 0 0 1 575.3 492.4L564 534.3A143.8 143.8 0 0 0 557.9 532.8ZM590.8 497.3A187.2 187.2 0 0 1 598.4 500.2L581.8 540.3A143.8 143.8 0 0 0 576 538.1ZM613.2 507.2A187.2 187.2 0 0 1 620.4 511.1L598.7 548.7A143.8 143.8 0 0 0 593.2 545.6ZM620.4 511.1A187.2 187.2 0 0 1 627.4 515.3L604.1 551.9A143.8 143.8 0 0 0 598.7 548.7ZM627.4 515.3A187.2 187.2 0 0 1 634.2 519.9L609.3 555.4A143.8 143.8 0 0 0 604.1 551.9ZM634.2 519.9A187.2 187.2 0 0 1 640.8 524.7L614.3 559.1A143.8 143.8 0 0 0 609.3 555.4ZM640.8 524.7A187.2 187.2 0 0 1 647.1 529.8L619.2 563A143.8 143.8 0 0 0 614.3 559.1ZM653.3 535.2A187.2 187.2 0 0 1 659.2 540.8L628.5 571.5A143.8 143.8 0 0 0 623.9 567.2ZM659.2 540.8A187.2 187.2 0 0 1 664.8 546.7L632.8 576.1A143.8 143.8 0 0 0 628.5 571.5ZM664.8 546.7A187.2 187.2 0 0 1 670.2 552.9L637 580.8A143.8 143.8 0 0 0 632.8 576.1ZM670.2 552.9A187.2 187.2 0 0 1 675.3 559.2L640.9 585.7A143.8 143.8 0 0 0 637 580.8ZM675.3 559.2A187.2 187.2 0 0 1 680.1 565.8L644.6 590.7A143.8 143.8 0 0 0 640.9 585.7ZM680.1 565.8A187.2 187.2 0 0 1 684.7 572.6L648.1 595.9A143.8 143.8 0 0 0 644.6 590.7ZM684.7 572.6A187.2 187.2 0 0 1 688.9 579.6L651.3 601.3A143.8 143.8 0 0 0 648.1 595.9ZM688.9 579.6A187.2 187.2 0 0 1 692.8 586.8L654.4 606.8A143.8 143.8 0 0 0 651.3 601.3ZM696.5 594.1A187.2 187.2 0 0 1 699.8 601.6L659.7 618.2A143.8 143.8 0 0 0 657.1 612.4ZM699.8 601.6A187.2 187.2 0 0 1 702.7 609.2L661.9 624A143.8 143.8 0 0 0 659.7 618.2ZM702.7 609.2A187.2 187.2 0 0 1 705.3 616.9L663.9 630A143.8 143.8 0 0 0 661.9 624ZM705.3 616.9A187.2 187.2 0 0 1 707.6 624.7L665.7 636A143.8 143.8 0 0 0 663.9 630ZM712.4 648.8A187.2 187.2 0 0 1 713.3 656.9L670.1 660.7A143.8 143.8 0 0 0 669.4 654.4ZM713.3 656.9A187.2 187.2 0 0 1 713.8 665L670.5 666.9A143.8 143.8 0 0 0 670.1 660.7ZM713.8 665A187.2 187.2 0 0 1 714 673.2L670.6 673.2A143.8 143.8 0 0 0 670.5 666.9ZM714 673.2A187.2 187.2 0 0 1 713.8 681.4L670.5 679.5A143.8 143.8 0 0 0 670.6 673.2ZM711.2 705.7A187.2 187.2 0 0 1 709.6 713.7L667.2 704.3A143.8 143.8 0 0 0 668.4 698.2ZM709.6 713.7A187.2 187.2 0 0 1 707.6 721.7L665.7 710.4A143.8 143.8 0 0 0 667.2 704.3ZM707.6 721.7A187.2 187.2 0 0 1 705.3 729.5L663.9 716.4A143.8 143.8 0 0 0 665.7 710.4ZM702.7 737.2A187.2 187.2 0 0 1 699.8 744.8L659.7 728.2A143.8 143.8 0 0 0 661.9 722.4ZM684.7 773.8A187.2 187.2 0 0 1 680.1 780.6L644.6 755.7A143.8 143.8 0 0 0 648.1 750.5ZM680.1 780.6A187.2 187.2 0 0 1 675.3 787.2L640.9 760.7A143.8 143.8 0 0 0 644.6 755.7ZM675.3 787.2A187.2 187.2 0 0 1 670.2 793.5L637 765.6A143.8 143.8 0 0 0 640.9 760.7ZM670.2 793.5A187.2 187.2 0 0 1 664.8 799.7L632.8 770.3A143.8 143.8 0 0 0 637 765.6ZM659.2 805.6A187.2 187.2 0 0 1 653.3 811.2L623.9 779.2A143.8 143.8 0 0 0 628.5 774.9ZM653.3 811.2A187.2 187.2 0 0 1 647.1 816.6L619.2 783.4A143.8 143.8 0 0 0 623.9 779.2ZM634.2 826.5A187.2 187.2 0 0 1 627.4 831.1L604.1 794.5A143.8 143.8 0 0 0 609.3 791ZM627.4 831.1A187.2 187.2 0 0 1 620.4 835.3L598.7 797.7A143.8 143.8 0 0 0 604.1 794.5ZM620.4 835.3A187.2 187.2 0 0 1 613.2 839.2L593.2 800.8A143.8 143.8 0 0 0 598.7 797.7ZM598.4 846.2A187.2 187.2 0 0 1 590.8 849.1L576 808.3A143.8 143.8 0 0 0 581.8 806.1ZM590.8 849.1A187.2 187.2 0 0 1 583.1 851.7L570 810.3A143.8 143.8 0 0 0 576 808.3ZM575.3 854A187.2 187.2 0 0 1 567.3 856L557.9 813.6A143.8 143.8 0 0 0 564 812.1ZM559.3 857.6A187.2 187.2 0 0 1 551.2 858.8L545.6 815.8A143.8 143.8 0 0 0 551.8 814.8ZM543.1 859.7A187.2 187.2 0 0 1 535 860.2L533.1 816.9A143.8 143.8 0 0 0 539.3 816.5ZM518.6 860.2A187.2 187.2 0 0 1 510.5 859.7L514.3 816.5A143.8 143.8 0 0 0 520.5 816.9ZM510.5 859.7A187.2 187.2 0 0 1 502.4 858.8L508 815.8A143.8 143.8 0 0 0 514.3 816.5ZM502.4 858.8A187.2 187.2 0 0 1 494.3 857.6L501.8 814.8A143.8 143.8 0 0 0 508 815.8ZM494.3 857.6A187.2 187.2 0 0 1 486.3 856L495.7 813.6A143.8 143.8 0 0 0 501.8 814.8ZM486.3 856A187.2 187.2 0 0 1 478.3 854L489.6 812.1A143.8 143.8 0 0 0 495.7 813.6ZM478.3 854A187.2 187.2 0 0 1 470.5 851.7L483.6 810.3A143.8 143.8 0 0 0 489.6 812.1ZM470.5 851.7A187.2 187.2 0 0 1 462.8 849.1L477.6 808.3A143.8 143.8 0 0 0 483.6 810.3ZM455.2 846.2A187.2 187.2 0 0 1 447.7 842.9L466 803.5A143.8 143.8 0 0 0 471.8 806.1ZM447.7 842.9A187.2 187.2 0 0 1 440.4 839.2L460.4 800.8A143.8 143.8 0 0 0 466 803.5ZM440.4 839.2A187.2 187.2 0 0 1 433.2 835.3L454.9 797.7A143.8 143.8 0 0 0 460.4 800.8ZM433.2 835.3A187.2 187.2 0 0 1 426.2 831.1L449.5 794.5A143.8 143.8 0 0 0 454.9 797.7ZM426.2 831.1A187.2 187.2 0 0 1 419.4 826.5L444.3 791A143.8 143.8 0 0 0 449.5 794.5ZM412.8 821.7A187.2 187.2 0 0 1 406.5 816.6L434.4 783.4A143.8 143.8 0 0 0 439.3 787.3ZM406.5 816.6A187.2 187.2 0 0 1 400.3 811.2L429.7 779.2A143.8 143.8 0 0 0 434.4 783.4ZM394.4 805.6A187.2 187.2 0 0 1 388.8 799.7L420.8 770.3A143.8 143.8 0 0 0 425.1 774.9ZM388.8 799.7A187.2 187.2 0 0 1 383.4 793.5L416.6 765.6A143.8 143.8 0 0 0 420.8 770.3ZM378.3 787.2A187.2 187.2 0 0 1 373.5 780.6L409 755.7A143.8 143.8 0 0 0 412.7 760.7ZM357.1 752.3A187.2 187.2 0 0 1 353.8 744.8L393.9 728.2A143.8 143.8 0 0 0 396.5 734ZM353.8 744.8A187.2 187.2 0 0 1 350.9 737.2L391.7 722.4A143.8 143.8 0 0 0 393.9 728.2ZM350.9 737.2A187.2 187.2 0 0 1 348.3 729.5L389.7 716.4A143.8 143.8 0 0 0 391.7 722.4ZM348.3 729.5A187.2 187.2 0 0 1 346 721.7L387.9 710.4A143.8 143.8 0 0 0 389.7 716.4ZM346 721.7A187.2 187.2 0 0 1 344 713.7L386.4 704.3A143.8 143.8 0 0 0 387.9 710.4ZM344 713.7A187.2 187.2 0 0 1 342.4 705.7L385.2 698.2A143.8 143.8 0 0 0 386.4 704.3ZM342.4 705.7A187.2 187.2 0 0 1 341.2 697.6L384.2 692A143.8 143.8 0 0 0 385.2 698.2ZM341.2 697.6A187.2 187.2 0 0 1 340.3 689.5L383.5 685.7A143.8 143.8 0 0 0 384.2 692ZM340.3 689.5A187.2 187.2 0 0 1 339.8 681.4L383.1 679.5A143.8 143.8 0 0 0 383.5 685.7ZM339.8 681.4A187.2 187.2 0 0 1 339.6 673.2L383 673.2A143.8 143.8 0 0 0 383.1 679.5Z" fill="#F0CFB7" stroke="#111" stroke-width="1.4" stroke-linejoin="miter"/>
<path d="M707.6 624.7A187.2 187.2 0 0 1 709.6 632.7L667.2 642.1A143.8 143.8 0 0 0 665.7 636ZM709.6 632.7A187.2 187.2 0 0 1 711.2 640.7L668.4 648.2A143.8 143.8 0 0 0 667.2 642.1ZM713.8 681.4A187.2 187.2 0 0 1 713.3 689.5L670.1 685.7A143.8 143.8 0 0 0 670.5 679.5ZM688.9 766.8A187.2 187.2 0 0 1 684.7 773.8L648.1 750.5A143.8 143.8 0 0 0 651.3 745.1ZM400.3 811.2A187.2 187.2 0 0 1 394.4 805.6L425.1 774.9A143.8 143.8 0 0 0 429.7 779.2ZM373.5 780.6A187.2 187.2 0 0 1 368.9 773.8L405.5 750.5A143.8 143.8 0 0 0 409 755.7ZM368.9 773.8A187.2 187.2 0 0 1 364.7 766.8L402.3 745.1A143.8 143.8 0 0 0 405.5 750.5ZM364.7 766.8A187.2 187.2 0 0 1 360.8 759.6L399.2 739.6A143.8 143.8 0 0 0 402.3 745.1Z" fill="#ACDDE1" stroke="#111" stroke-width="1.4" stroke-linejoin="miter"/>
<path d="M711.2 640.7A187.2 187.2 0 0 1 712.4 648.8L669.4 654.4A143.8 143.8 0 0 0 668.4 648.2ZM664.8 799.7A187.2 187.2 0 0 1 659.2 805.6L628.5 774.9A143.8 143.8 0 0 0 632.8 770.3ZM383.4 793.5A187.2 187.2 0 0 1 378.3 787.2L412.7 760.7A143.8 143.8 0 0 0 416.6 765.6Z" fill="#BEBEBE" stroke="#111" stroke-width="1.4" stroke-linejoin="miter"/>
<path d="M699.8 744.8A187.2 187.2 0 0 1 696.5 752.3L657.1 734A143.8 143.8 0 0 0 659.7 728.2ZM696.5 752.3A187.2 187.2 0 0 1 692.8 759.6L654.4 739.6A143.8 143.8 0 0 0 657.1 734ZM535 860.2A187.2 187.2 0 0 1 526.8 860.4L526.8 817A143.8 143.8 0 0 0 533.1 816.9ZM462.8 849.1A187.2 187.2 0 0 1 455.2 846.2L471.8 806.1A143.8 143.8 0 0 0 477.6 808.3Z" fill="#DBA050" stroke="#111" stroke-width="1.4" stroke-linejoin="miter"/>
<path d="M526.8 486A187.2 187.2 0 1 1 339.6 673.2L383 673.2A143.8 143.8 0 1 0 526.8 529.4Z" fill="none" stroke="#111" stroke-width="1.7"/>
<path d="M526.8 537.9A135.3 135.3 0 0 1 532.7 538L530.8 581.8A91.5 91.5 0 0 0 526.8 581.7ZM532.7 538A135.3 135.3 0 0 1 538.6 538.4L534.8 582A91.5 91.5 0 0 0 530.8 581.8ZM538.6 538.4A135.3 135.3 0 0 1 544.5 539.1L538.7 582.5A91.5 91.5 0 0 0 534.8 582ZM544.5 539.1A135.3 135.3 0 0 1 550.3 540L542.7 583.1A91.5 91.5 0 0 0 538.7 582.5ZM550.3 540A135.3 135.3 0 0 1 556.1 541.1L546.6 583.9A91.5 91.5 0 0 0 542.7 583.1ZM567.5 544.2A135.3 135.3 0 0 1 573.1 546.1L558.1 587.2A91.5 91.5 0 0 0 554.3 585.9ZM573.1 546.1A135.3 135.3 0 0 1 578.6 548.2L561.8 588.7A91.5 91.5 0 0 0 558.1 587.2ZM578.6 548.2A135.3 135.3 0 0 1 584 550.6L565.5 590.3A91.5 91.5 0 0 0 561.8 588.7ZM589.3 553.2A135.3 135.3 0 0 1 594.4 556L572.5 594A91.5 91.5 0 0 0 569 592ZM594.4 556A135.3 135.3 0 0 1 599.5 559.1L576 596A91.5 91.5 0 0 0 572.5 594ZM599.5 559.1A135.3 135.3 0 0 1 604.4 562.4L579.3 598.2A91.5 91.5 0 0 0 576 596ZM630.4 586.2A135.3 135.3 0 0 1 634.1 590.8L599.4 617.5A91.5 91.5 0 0 0 596.9 614.4ZM634.1 590.8A135.3 135.3 0 0 1 637.6 595.6L601.8 620.7A91.5 91.5 0 0 0 599.4 617.5ZM637.6 595.6A135.3 135.3 0 0 1 640.9 600.5L604 624A91.5 91.5 0 0 0 601.8 620.7ZM653.9 626.9A135.3 135.3 0 0 1 655.8 632.5L614.1 645.7A91.5 91.5 0 0 0 612.8 641.9ZM655.8 632.5A135.3 135.3 0 0 1 657.5 638.2L615.2 649.5A91.5 91.5 0 0 0 614.1 645.7ZM661.6 661.4A135.3 135.3 0 0 1 662 667.3L618.2 669.2A91.5 91.5 0 0 0 618 665.2ZM662 667.3A135.3 135.3 0 0 1 662.1 673.2L618.3 673.2A91.5 91.5 0 0 0 618.2 669.2ZM658.9 702.5A135.3 135.3 0 0 1 657.5 708.2L615.2 696.9A91.5 91.5 0 0 0 616.1 693ZM646.8 735.7A135.3 135.3 0 0 1 644 740.9L606 719A91.5 91.5 0 0 0 608 715.4ZM604.4 784A135.3 135.3 0 0 1 599.5 787.3L576 750.4A91.5 91.5 0 0 0 579.3 748.2ZM584 795.8A135.3 135.3 0 0 1 578.6 798.2L561.8 757.7A91.5 91.5 0 0 0 565.5 756.1ZM573.1 800.3A135.3 135.3 0 0 1 567.5 802.2L554.3 760.5A91.5 91.5 0 0 0 558.1 759.2ZM561.8 803.9A135.3 135.3 0 0 1 556.1 805.3L546.6 762.5A91.5 91.5 0 0 0 550.5 761.6ZM544.5 807.3A135.3 135.3 0 0 1 538.6 808L534.8 764.4A91.5 91.5 0 0 0 538.7 763.9ZM520.9 808.4A135.3 135.3 0 0 1 515 808L518.8 764.4A91.5 91.5 0 0 0 522.8 764.6ZM491.8 803.9A135.3 135.3 0 0 1 486.1 802.2L499.3 760.5A91.5 91.5 0 0 0 503.1 761.6ZM480.5 800.3A135.3 135.3 0 0 1 475 798.2L491.8 757.7A91.5 91.5 0 0 0 495.5 759.2ZM427 764.6A135.3 135.3 0 0 1 423.2 760.2L456.7 732A91.5 91.5 0 0 0 459.3 735ZM423.2 760.2A135.3 135.3 0 0 1 419.5 755.6L454.2 728.9A91.5 91.5 0 0 0 456.7 732ZM397.8 713.9A135.3 135.3 0 0 1 396.1 708.2L438.4 696.9A91.5 91.5 0 0 0 439.5 700.7ZM394.7 702.5A135.3 135.3 0 0 1 393.6 696.7L436.7 689.1A91.5 91.5 0 0 0 437.5 693ZM393.6 696.7A135.3 135.3 0 0 1 392.7 690.9L436.1 685.1A91.5 91.5 0 0 0 436.7 689.1ZM392.7 690.9A135.3 135.3 0 0 1 392 685L435.6 681.2A91.5 91.5 0 0 0 436.1 685.1ZM392 685A135.3 135.3 0 0 1 391.6 679.1L435.4 677.2A91.5 91.5 0 0 0 435.6 681.2ZM391.6 679.1A135.3 135.3 0 0 1 391.5 673.2L435.3 673.2A91.5 91.5 0 0 0 435.4 677.2Z" fill="#C4C4C4" stroke="#111" stroke-width="1.25" stroke-linejoin="miter"/>
<path d="M556.1 541.1A135.3 135.3 0 0 1 561.8 542.5L550.5 584.8A91.5 91.5 0 0 0 546.6 583.9ZM561.8 542.5A135.3 135.3 0 0 1 567.5 544.2L554.3 585.9A91.5 91.5 0 0 0 550.5 584.8ZM584 550.6A135.3 135.3 0 0 1 589.3 553.2L569 592A91.5 91.5 0 0 0 565.5 590.3ZM609.2 565.9A135.3 135.3 0 0 1 613.8 569.6L585.6 603.1A91.5 91.5 0 0 0 582.5 600.6ZM618.2 573.4A135.3 135.3 0 0 1 622.5 577.5L591.5 608.5A91.5 91.5 0 0 0 588.6 605.7ZM640.9 600.5A135.3 135.3 0 0 1 644 605.6L606 627.5A91.5 91.5 0 0 0 604 624ZM644 605.6A135.3 135.3 0 0 1 646.8 610.7L608 631A91.5 91.5 0 0 0 606 627.5ZM646.8 610.7A135.3 135.3 0 0 1 649.4 616L609.7 634.5A91.5 91.5 0 0 0 608 631ZM649.4 616A135.3 135.3 0 0 1 651.8 621.4L611.3 638.2A91.5 91.5 0 0 0 609.7 634.5ZM657.5 638.2A135.3 135.3 0 0 1 658.9 643.9L616.1 653.4A91.5 91.5 0 0 0 615.2 649.5ZM658.9 643.9A135.3 135.3 0 0 1 660 649.7L616.9 657.3A91.5 91.5 0 0 0 616.1 653.4ZM660.9 655.5A135.3 135.3 0 0 1 661.6 661.4L618 665.2A91.5 91.5 0 0 0 617.5 661.3ZM662 679.1A135.3 135.3 0 0 1 661.6 685L618 681.2A91.5 91.5 0 0 0 618.2 677.2ZM661.6 685A135.3 135.3 0 0 1 660.9 690.9L617.5 685.1A91.5 91.5 0 0 0 618 681.2ZM657.5 708.2A135.3 135.3 0 0 1 655.8 713.9L614.1 700.7A91.5 91.5 0 0 0 615.2 696.9ZM644 740.9A135.3 135.3 0 0 1 640.9 745.9L604 722.4A91.5 91.5 0 0 0 606 719ZM640.9 745.9A135.3 135.3 0 0 1 637.6 750.8L601.8 725.7A91.5 91.5 0 0 0 604 722.4ZM637.6 750.8A135.3 135.3 0 0 1 634.1 755.6L599.4 728.9A91.5 91.5 0 0 0 601.8 725.7ZM630.4 760.2A135.3 135.3 0 0 1 626.6 764.6L594.3 735A91.5 91.5 0 0 0 596.9 732ZM626.6 764.6A135.3 135.3 0 0 1 622.5 768.9L591.5 737.9A91.5 91.5 0 0 0 594.3 735ZM613.8 776.8A135.3 135.3 0 0 1 609.2 780.5L582.5 745.8A91.5 91.5 0 0 0 585.6 743.3ZM609.2 780.5A135.3 135.3 0 0 1 604.4 784L579.3 748.2A91.5 91.5 0 0 0 582.5 745.8ZM599.5 787.3A135.3 135.3 0 0 1 594.4 790.4L572.5 752.4A91.5 91.5 0 0 0 576 750.4ZM550.3 806.4A135.3 135.3 0 0 1 544.5 807.3L538.7 763.9A91.5 91.5 0 0 0 542.7 763.3ZM538.6 808A135.3 135.3 0 0 1 532.7 808.4L530.8 764.6A91.5 91.5 0 0 0 534.8 764.4ZM532.7 808.4A135.3 135.3 0 0 1 526.8 808.5L526.8 764.7A91.5 91.5 0 0 0 530.8 764.6ZM515 808A135.3 135.3 0 0 1 509.1 807.3L514.9 763.9A91.5 91.5 0 0 0 518.8 764.4ZM509.1 807.3A135.3 135.3 0 0 1 503.3 806.4L510.9 763.3A91.5 91.5 0 0 0 514.9 763.9ZM431.1 768.9A135.3 135.3 0 0 1 427 764.6L459.3 735A91.5 91.5 0 0 0 462.1 737.9ZM419.5 755.6A135.3 135.3 0 0 1 416 750.8L451.8 725.7A91.5 91.5 0 0 0 454.2 728.9ZM416 750.8A135.3 135.3 0 0 1 412.7 745.9L449.6 722.4A91.5 91.5 0 0 0 451.8 725.7ZM412.7 745.9A135.3 135.3 0 0 1 409.6 740.9L447.6 719A91.5 91.5 0 0 0 449.6 722.4ZM409.6 740.9A135.3 135.3 0 0 1 406.8 735.7L445.6 715.4A91.5 91.5 0 0 0 447.6 719ZM404.2 730.4A135.3 135.3 0 0 1 401.8 725L442.3 708.2A91.5 91.5 0 0 0 443.9 711.9ZM401.8 725A135.3 135.3 0 0 1 399.7 719.5L440.8 704.5A91.5 91.5 0 0 0 442.3 708.2Z" fill="#EE2210" stroke="#111" stroke-width="1.25" stroke-linejoin="miter"/>
<path d="M604.4 562.4A135.3 135.3 0 0 1 609.2 565.9L582.5 600.6A91.5 91.5 0 0 0 579.3 598.2ZM613.8 569.6A135.3 135.3 0 0 1 618.2 573.4L588.6 605.7A91.5 91.5 0 0 0 585.6 603.1ZM622.5 577.5A135.3 135.3 0 0 1 626.6 581.8L594.3 611.4A91.5 91.5 0 0 0 591.5 608.5ZM626.6 581.8A135.3 135.3 0 0 1 630.4 586.2L596.9 614.4A91.5 91.5 0 0 0 594.3 611.4ZM651.8 621.4A135.3 135.3 0 0 1 653.9 626.9L612.8 641.9A91.5 91.5 0 0 0 611.3 638.2ZM660 649.7A135.3 135.3 0 0 1 660.9 655.5L617.5 661.3A91.5 91.5 0 0 0 616.9 657.3ZM662.1 673.2A135.3 135.3 0 0 1 662 679.1L618.2 677.2A91.5 91.5 0 0 0 618.3 673.2ZM660.9 690.9A135.3 135.3 0 0 1 660 696.7L616.9 689.1A91.5 91.5 0 0 0 617.5 685.1ZM660 696.7A135.3 135.3 0 0 1 658.9 702.5L616.1 693A91.5 91.5 0 0 0 616.9 689.1ZM655.8 713.9A135.3 135.3 0 0 1 653.9 719.5L612.8 704.5A91.5 91.5 0 0 0 614.1 700.7ZM653.9 719.5A135.3 135.3 0 0 1 651.8 725L611.3 708.2A91.5 91.5 0 0 0 612.8 704.5ZM651.8 725A135.3 135.3 0 0 1 649.4 730.4L609.7 711.9A91.5 91.5 0 0 0 611.3 708.2ZM649.4 730.4A135.3 135.3 0 0 1 646.8 735.7L608 715.4A91.5 91.5 0 0 0 609.7 711.9ZM634.1 755.6A135.3 135.3 0 0 1 630.4 760.2L596.9 732A91.5 91.5 0 0 0 599.4 728.9ZM622.5 768.9A135.3 135.3 0 0 1 618.2 773L588.6 740.7A91.5 91.5 0 0 0 591.5 737.9ZM618.2 773A135.3 135.3 0 0 1 613.8 776.8L585.6 743.3A91.5 91.5 0 0 0 588.6 740.7ZM594.4 790.4A135.3 135.3 0 0 1 589.3 793.2L569 754.4A91.5 91.5 0 0 0 572.5 752.4ZM589.3 793.2A135.3 135.3 0 0 1 584 795.8L565.5 756.1A91.5 91.5 0 0 0 569 754.4ZM578.6 798.2A135.3 135.3 0 0 1 573.1 800.3L558.1 759.2A91.5 91.5 0 0 0 561.8 757.7ZM567.5 802.2A135.3 135.3 0 0 1 561.8 803.9L550.5 761.6A91.5 91.5 0 0 0 554.3 760.5ZM556.1 805.3A135.3 135.3 0 0 1 550.3 806.4L542.7 763.3A91.5 91.5 0 0 0 546.6 762.5ZM526.8 808.5A135.3 135.3 0 0 1 520.9 808.4L522.8 764.6A91.5 91.5 0 0 0 526.8 764.7ZM503.3 806.4A135.3 135.3 0 0 1 497.5 805.3L507 762.5A91.5 91.5 0 0 0 510.9 763.3ZM497.5 805.3A135.3 135.3 0 0 1 491.8 803.9L503.1 761.6A91.5 91.5 0 0 0 507 762.5ZM486.1 802.2A135.3 135.3 0 0 1 480.5 800.3L495.5 759.2A91.5 91.5 0 0 0 499.3 760.5ZM475 798.2A135.3 135.3 0 0 1 469.6 795.8L488.1 756.1A91.5 91.5 0 0 0 491.8 757.7ZM469.6 795.8A135.3 135.3 0 0 1 464.3 793.2L484.6 754.4A91.5 91.5 0 0 0 488.1 756.1ZM464.3 793.2A135.3 135.3 0 0 1 459.1 790.4L481 752.4A91.5 91.5 0 0 0 484.6 754.4ZM459.1 790.4A135.3 135.3 0 0 1 454.1 787.3L477.6 750.4A91.5 91.5 0 0 0 481 752.4ZM454.1 787.3A135.3 135.3 0 0 1 449.2 784L474.3 748.2A91.5 91.5 0 0 0 477.6 750.4ZM449.2 784A135.3 135.3 0 0 1 444.4 780.5L471.1 745.8A91.5 91.5 0 0 0 474.3 748.2ZM444.4 780.5A135.3 135.3 0 0 1 439.8 776.8L468 743.3A91.5 91.5 0 0 0 471.1 745.8ZM439.8 776.8A135.3 135.3 0 0 1 435.4 773L465 740.7A91.5 91.5 0 0 0 468 743.3ZM435.4 773A135.3 135.3 0 0 1 431.1 768.9L462.1 737.9A91.5 91.5 0 0 0 465 740.7ZM406.8 735.7A135.3 135.3 0 0 1 404.2 730.4L443.9 711.9A91.5 91.5 0 0 0 445.6 715.4ZM399.7 719.5A135.3 135.3 0 0 1 397.8 713.9L439.5 700.7A91.5 91.5 0 0 0 440.8 704.5ZM396.1 708.2A135.3 135.3 0 0 1 394.7 702.5L437.5 693A91.5 91.5 0 0 0 438.4 696.9Z" fill="#4098B5" stroke="#111" stroke-width="1.25" stroke-linejoin="miter"/>
<path d="M526.8 537.9A135.3 135.3 0 1 1 391.5 673.2L435.3 673.2A91.5 91.5 0 1 0 526.8 581.7Z" fill="none" stroke="#111" stroke-width="1.7"/>
<g font-size="13" fill="#111">
<text transform="translate(536.3 237.1) rotate(-88.8) scale(.917 1)" text-anchor="start" dy="4.6">ZOQM06Q</text>
<text transform="translate(555.3 237.9) rotate(-86.2) scale(.917 1)" text-anchor="start" dy="4.6">ZUC2YGO</text>
<text transform="translate(574.3 239.6) rotate(-83.8) scale(.917 1)" text-anchor="start" dy="4.6">ZXHCGKV</text>
<text transform="translate(593.2 242.1) rotate(-81.2) scale(.917 1)" text-anchor="start" dy="4.6">ZUHT69X</text>
<text transform="translate(611.9 245.4) rotate(-78.8) scale(.917 1)" text-anchor="start" dy="4.6">ZMGT937</text>
<text transform="translate(630.5 249.5) rotate(-76.2) scale(.917 1)" text-anchor="start" dy="4.6">ZXSO14L</text>
<text transform="translate(648.9 254.4) rotate(-73.8) scale(.917 1)" text-anchor="start" dy="4.6">ZLYEM2C</text>
<text transform="translate(667 260.1) rotate(-71.2) scale(.917 1)" text-anchor="start" dy="4.6">ZRA5YD8</text>
<text transform="translate(684.9 266.7) rotate(-68.8) scale(.917 1)" text-anchor="start" dy="4.6">ZTXWLP3</text>
<text transform="translate(702.5 273.9) rotate(-66.2) scale(.917 1)" text-anchor="start" dy="4.6">ZYLJ7R7</text>
<text transform="translate(719.7 282) rotate(-63.8) scale(.917 1)" text-anchor="start" dy="4.6">ZTMFN3O</text>
<text transform="translate(736.6 290.8) rotate(-61.2) scale(.917 1)" text-anchor="start" dy="4.6">ZM6AE3T</text>
<text transform="translate(753.1 300.3) rotate(-58.8) scale(.917 1)" text-anchor="start" dy="4.6">ZQNZSQF</text>
<text transform="translate(769.1 310.5) rotate(-56.2) scale(.917 1)" text-anchor="start" dy="4.6">ZYHHR4Z</text>
<text transform="translate(784.7 321.4) rotate(-53.8) scale(.917 1)" text-anchor="start" dy="4.6">ZTUO1AO</text>
<text transform="translate(799.8 333) rotate(-51.2) scale(.917 1)" text-anchor="start" dy="4.6">ZVNCGHM</text>
<text transform="translate(814.4 345.2) rotate(-48.8) scale(.917 1)" text-anchor="start" dy="4.6">ZNDMXI3</text>
<text transform="translate(828.4 358.1) rotate(-46.2) scale(.917 1)" text-anchor="start" dy="4.6">ZS2DMX7</text>
<text transform="translate(841.9 371.6) rotate(-43.8) scale(.917 1)" text-anchor="start" dy="4.6">ZM8YXDM</text>
<text transform="translate(854.8 385.6) rotate(-41.2) scale(.917 1)" text-anchor="start" dy="4.6">ZTTL3YH</text>
<text transform="translate(867 400.2) rotate(-38.8) scale(.917 1)" text-anchor="start" dy="4.6">ZSMO1UM</text>
<text transform="translate(878.6 415.3) rotate(-36.2) scale(.917 1)" text-anchor="start" dy="4.6">ZN9TKCJ</text>
<text transform="translate(889.5 430.9) rotate(-33.8) scale(.917 1)" text-anchor="start" dy="4.6">ZS78KHV</text>
<text transform="translate(899.7 446.9) rotate(-31.2) scale(.917 1)" text-anchor="start" dy="4.6">ZRGK7U8_1</text>
<text transform="translate(909.2 463.4) rotate(-28.8) scale(.917 1)" text-anchor="start" dy="4.6">ZRGK7U8_2</text>
<text transform="translate(918 480.3) rotate(-26.2) scale(.917 1)" text-anchor="start" dy="4.6">ZVC4YUG</text>
<text transform="translate(926.1 497.5) rotate(-23.8) scale(.917 1)" text-anchor="start" dy="4.6">ZTLIFAS</text>
<text transform="translate(933.3 515.1) rotate(-21.2) scale(.917 1)" text-anchor="start" dy="4.6">ZPJT5MY</text>
<text transform="translate(939.9 533) rotate(-18.8) scale(.917 1)" text-anchor="start" dy="4.6">ZR3WH7V</text>
<text transform="translate(945.6 551.1) rotate(-16.2) scale(.917 1)" text-anchor="start" dy="4.6">ZO3XSJN</text>
<text transform="translate(950.5 569.5) rotate(-13.8) scale(.917 1)" text-anchor="start" dy="4.6">ZJXC41N_1</text>
<text transform="translate(954.6 588.1) rotate(-11.2) scale(.917 1)" text-anchor="start" dy="4.6">ZJXC41N_2</text>
<text transform="translate(957.9 606.8) rotate(-8.8) scale(.917 1)" text-anchor="start" dy="4.6">ZMS5W76</text>
<text transform="translate(960.4 625.7) rotate(-6.2) scale(.917 1)" text-anchor="start" dy="4.6">ZK4CK8Y</text>
<text transform="translate(962.1 644.7) rotate(-3.8) scale(.917 1)" text-anchor="start" dy="4.6">ZTLUDS8</text>
<text transform="translate(962.9 663.7) rotate(-1.2) scale(.917 1)" text-anchor="start" dy="4.6">ZV1ZA6Z</text>
<text transform="translate(962.9 682.7) rotate(1.2) scale(.917 1)" text-anchor="start" dy="4.6">ZYXQKWY</text>
<text transform="translate(962.1 701.7) rotate(3.8) scale(.917 1)" text-anchor="start" dy="4.6">ZLPRB8E</text>
<text transform="translate(960.4 720.7) rotate(6.2) scale(.917 1)" text-anchor="start" dy="4.6">ZVGW5FI</text>
<text transform="translate(957.9 739.6) rotate(8.8) scale(.917 1)" text-anchor="start" dy="4.6">ZLPZSOH</text>
<text transform="translate(954.6 758.3) rotate(11.2) scale(.917 1)" text-anchor="start" dy="4.6">ZVM4N7A</text>
<text transform="translate(950.5 776.9) rotate(13.8) scale(.917 1)" text-anchor="start" dy="4.6">ZXKBAO5</text>
<text transform="translate(945.6 795.3) rotate(16.2) scale(.917 1)" text-anchor="start" dy="4.6">ZPEL6L3</text>
<text transform="translate(939.9 813.4) rotate(18.8) scale(.917 1)" text-anchor="start" dy="4.6">ZR47VBL</text>
<text transform="translate(933.3 831.3) rotate(21.2) scale(.917 1)" text-anchor="start" dy="4.6">ZQMVU4Q</text>
<text transform="translate(926.1 848.9) rotate(23.8) scale(.917 1)" text-anchor="start" dy="4.6">ZRB0F6P</text>
<text transform="translate(918 866.1) rotate(26.2) scale(.917 1)" text-anchor="start" dy="4.6">ZXSDNAK</text>
<text transform="translate(909.2 883) rotate(28.8) scale(.917 1)" text-anchor="start" dy="4.6">ZPDABJR</text>
<text transform="translate(899.7 899.5) rotate(31.2) scale(.917 1)" text-anchor="start" dy="4.6">ZMBH10Z</text>
<text transform="translate(889.5 915.5) rotate(33.8) scale(.917 1)" text-anchor="start" dy="4.6">ZVTCAK9</text>
<text transform="translate(878.6 931.1) rotate(36.2) scale(.917 1)" text-anchor="start" dy="4.6">ZTXY83G</text>
<text transform="translate(867 946.2) rotate(38.8) scale(.917 1)" text-anchor="start" dy="4.6">ZPMBHPS</text>
<text transform="translate(854.8 960.8) rotate(41.2) scale(.917 1)" text-anchor="start" dy="4.6">ZLZNCLZ</text>
<text transform="translate(841.9 974.8) rotate(43.8) scale(.917 1)" text-anchor="start" dy="4.6">ZYKZ9HQ</text>
<text transform="translate(828.4 988.3) rotate(46.2) scale(.917 1)" text-anchor="start" dy="4.6">ZW61YGW</text>
<text transform="translate(814.4 1001.2) rotate(48.8) scale(.917 1)" text-anchor="start" dy="4.6">ZQEFRDE</text>
<text transform="translate(799.8 1013.4) rotate(51.2) scale(.917 1)" text-anchor="start" dy="4.6">ZRLZ98T</text>
<text transform="translate(784.7 1025) rotate(53.8) scale(.917 1)" text-anchor="start" dy="4.6">ZO5QFNX</text>
<text transform="translate(769.1 1035.9) rotate(56.2) scale(.917 1)" text-anchor="start" dy="4.6">ZY39SN0</text>
<text transform="translate(753.1 1046.1) rotate(58.8) scale(.917 1)" text-anchor="start" dy="4.6">ZUL3S6O</text>
<text transform="translate(736.6 1055.6) rotate(61.2) scale(.917 1)" text-anchor="start" dy="4.6">ZVBQY1N</text>
<text transform="translate(719.7 1064.4) rotate(63.8) scale(.917 1)" text-anchor="start" dy="4.6">ZK112BX</text>
<text transform="translate(702.5 1072.5) rotate(66.2) scale(.917 1)" text-anchor="start" dy="4.6">ZODIOFW</text>
<text transform="translate(684.9 1079.7) rotate(68.8) scale(.917 1)" text-anchor="start" dy="4.6">ZOBX723</text>
<text transform="translate(667 1086.3) rotate(71.2) scale(.917 1)" text-anchor="start" dy="4.6">ZUPAQVU</text>
<text transform="translate(648.9 1092) rotate(73.8) scale(.917 1)" text-anchor="start" dy="4.6">ZOQSGYW</text>
<text transform="translate(630.5 1096.9) rotate(76.2) scale(.917 1)" text-anchor="start" dy="4.6">ZJTKAE3</text>
<text transform="translate(611.9 1101) rotate(78.8) scale(.917 1)" text-anchor="start" dy="4.6">ZPODXQ0</text>
<text transform="translate(593.2 1104.3) rotate(81.2) scale(.917 1)" text-anchor="start" dy="4.6">ZNED4XZ</text>
<text transform="translate(574.3 1106.8) rotate(83.8) scale(.917 1)" text-anchor="start" dy="4.6">ZMBVNFM</text>
<text transform="translate(555.3 1108.5) rotate(86.2) scale(.917 1)" text-anchor="start" dy="4.6">ZOZOW1T</text>
<text transform="translate(536.3 1109.3) rotate(88.8) scale(.917 1)" text-anchor="start" dy="4.6">ZN9YTFN</text>
<text transform="translate(517.3 1109.3) rotate(-88.8) scale(.917 1)" text-anchor="end" dy="4.6">ZM7JY3G</text>
<text transform="translate(498.3 1108.5) rotate(-86.2) scale(.917 1)" text-anchor="end" dy="4.6">ZYU89T9</text>
<text transform="translate(479.3 1106.8) rotate(-83.8) scale(.917 1)" text-anchor="end" dy="4.6">ZY1ZKJY</text>
<text transform="translate(460.4 1104.3) rotate(-81.2) scale(.917 1)" text-anchor="end" dy="4.6">ZV14SIB</text>
<text transform="translate(441.7 1101) rotate(-78.8) scale(.917 1)" text-anchor="end" dy="4.6">ZX52KVK</text>
<text transform="translate(423.1 1096.9) rotate(-76.2) scale(.917 1)" text-anchor="end" dy="4.6">ZLTUJTN_1</text>
<text transform="translate(404.7 1092) rotate(-73.8) scale(.917 1)" text-anchor="end" dy="4.6">ZLTUJTN_2</text>
<text transform="translate(386.6 1086.3) rotate(-71.2) scale(.917 1)" text-anchor="end" dy="4.6">ZPXU188</text>
<text transform="translate(368.7 1079.7) rotate(-68.8) scale(.917 1)" text-anchor="end" dy="4.6">ZLZQMEV</text>
<text transform="translate(351.1 1072.5) rotate(-66.2) scale(.917 1)" text-anchor="end" dy="4.6">ZO94RDZ</text>
<text transform="translate(333.9 1064.4) rotate(-63.8) scale(.917 1)" text-anchor="end" dy="4.6">ZSOZWGV</text>
<text transform="translate(317 1055.6) rotate(-61.2) scale(.917 1)" text-anchor="end" dy="4.6">ZKVR426</text>
<text transform="translate(300.5 1046.1) rotate(-58.8) scale(.917 1)" text-anchor="end" dy="4.6">ZWHMV5E</text>
<text transform="translate(284.5 1035.9) rotate(-56.2) scale(.917 1)" text-anchor="end" dy="4.6">ZL63I8R</text>
<text transform="translate(268.9 1025) rotate(-53.8) scale(.917 1)" text-anchor="end" dy="4.6">ZWFDEYO</text>
<text transform="translate(253.8 1013.4) rotate(-51.2) scale(.917 1)" text-anchor="end" dy="4.6">ZTJ7L7Z</text>
<text transform="translate(239.2 1001.2) rotate(-48.8) scale(.917 1)" text-anchor="end" dy="4.6">ZWLGEWL</text>
<text transform="translate(225.2 988.3) rotate(-46.2) scale(.917 1)" text-anchor="end" dy="4.6">ZY9XQJP</text>
<text transform="translate(211.7 974.8) rotate(-43.8) scale(.917 1)" text-anchor="end" dy="4.6">ZL9BTWF</text>
<text transform="translate(198.8 960.8) rotate(-41.2) scale(.917 1)" text-anchor="end" dy="4.6">ZNQOVZV</text>
<text transform="translate(186.6 946.2) rotate(-38.8) scale(.917 1)" text-anchor="end" dy="4.6">ZO9UWDL</text>
<text transform="translate(175 931.1) rotate(-36.2) scale(.917 1)" text-anchor="end" dy="4.6">ZQFL1P3</text>
<text transform="translate(164.1 915.5) rotate(-33.8) scale(.917 1)" text-anchor="end" dy="4.6">ZKFV71L_1</text>
<text transform="translate(153.9 899.5) rotate(-31.2) scale(.917 1)" text-anchor="end" dy="4.6">ZKFV71L_2</text>
<text transform="translate(144.4 883) rotate(-28.8) scale(.917 1)" text-anchor="end" dy="4.6">ZNOJE53</text>
<text transform="translate(135.6 866.1) rotate(-26.2) scale(.917 1)" text-anchor="end" dy="4.6">ZWCZHHY</text>
<text transform="translate(127.5 848.9) rotate(-23.8) scale(.917 1)" text-anchor="end" dy="4.6">ZN3TBJM</text>
<text transform="translate(120.3 831.3) rotate(-21.2) scale(.917 1)" text-anchor="end" dy="4.6">ZLGD9MO</text>
<text transform="translate(113.7 813.4) rotate(-18.8) scale(.917 1)" text-anchor="end" dy="4.6">ZPF36E2</text>
<text transform="translate(108 795.3) rotate(-16.2) scale(.917 1)" text-anchor="end" dy="4.6">ZSUQ08V</text>
<text transform="translate(103.1 776.9) rotate(-13.8) scale(.917 1)" text-anchor="end" dy="4.6">ZY7IW45</text>
<text transform="translate(99 758.3) rotate(-11.2) scale(.917 1)" text-anchor="end" dy="4.6">ZUF48YS</text>
<text transform="translate(95.7 739.6) rotate(-8.8) scale(.917 1)" text-anchor="end" dy="4.6">ZSQNUZ5</text>
<text transform="translate(93.2 720.7) rotate(-6.2) scale(.917 1)" text-anchor="end" dy="4.6">ZUG7QHE</text>
<text transform="translate(91.5 701.7) rotate(-3.8) scale(.917 1)" text-anchor="end" dy="4.6">ZTL8083</text>
<text transform="translate(90.7 682.7) rotate(-1.2) scale(.917 1)" text-anchor="end" dy="4.6">ZTL5S2Y</text>
</g>
<g font-size="18" fill="#111" text-anchor="end">
<text x="516.5" y="259.9" textLength="20.5" lengthAdjust="spacingAndGlyphs">75</text>
<path d="M519 253.5H527" stroke="#111" stroke-width="1.2"/>
<text x="516.5" y="295.4" textLength="20.5" lengthAdjust="spacingAndGlyphs">51</text>
<path d="M519 289H527" stroke="#111" stroke-width="1.2"/>
<text x="516.5" y="336.9" textLength="20.5" lengthAdjust="spacingAndGlyphs">21</text>
<path d="M519 330.5H527" stroke="#111" stroke-width="1.2"/>
<text x="516.5" y="358.4" textLength="20.5" lengthAdjust="spacingAndGlyphs">41</text>
<path d="M519 352H527" stroke="#111" stroke-width="1.2"/>
<text x="516.5" y="389.4" textLength="20.5" lengthAdjust="spacingAndGlyphs">30</text>
<path d="M519 383H527" stroke="#111" stroke-width="1.2"/>
<text x="516.5" y="432.9" textLength="20.5" lengthAdjust="spacingAndGlyphs">15</text>
<path d="M519 426.5H527" stroke="#111" stroke-width="1.2"/>
</g>
<g fill="#111">
<text x="98.8" y="91" font-size="18" text-anchor="end" textLength="57.5" lengthAdjust="spacingAndGlyphs">Insulin</text>
<text x="98.8" y="110" font-size="18" text-anchor="end" textLength="79.5" lengthAdjust="spacingAndGlyphs">response</text>
<rect x="106.6" y="81.2" width="24" height="24" fill="#EE1C0E" stroke="#333" stroke-width="1.4"/>
<text x="141" y="100.5" font-size="18" text-anchor="start" textLength="148.2" lengthAdjust="spacingAndGlyphs">Iusulin sensitivity</text>
<rect x="304.6" y="81.2" width="24" height="24" fill="#3E98B4" stroke="#333" stroke-width="1.4"/>
<text x="338.4" y="100.5" font-size="18" text-anchor="start" textLength="151.6" lengthAdjust="spacingAndGlyphs">Iusulin resistence</text>
<text x="98.8" y="144.8" font-size="18" text-anchor="end" textLength="75.1" lengthAdjust="spacingAndGlyphs">Ethnicity</text>
<rect x="106.6" y="125.2" width="24" height="24" fill="#176B9D" stroke="#333" stroke-width="1.4"/>
<text x="141.5" y="144.8" font-size="18" text-anchor="start" textLength="47.4" lengthAdjust="spacingAndGlyphs">Asian</text>
<rect x="203.7" y="125.2" width="24" height="24" fill="#ACDDE1" stroke="#333" stroke-width="1.4"/>
<text x="238.6" y="144.8" font-size="18" text-anchor="start" textLength="46.7" lengthAdjust="spacingAndGlyphs">Black</text>
<rect x="300.5" y="125.2" width="24" height="24" fill="#F0CFB7" stroke="#333" stroke-width="1.4"/>
<text x="335" y="144.8" font-size="18" text-anchor="start" textLength="90.7" lengthAdjust="spacingAndGlyphs">Caucasian</text>
<rect x="442.6" y="125.2" width="24" height="24" fill="#DBA050" stroke="#333" stroke-width="1.4"/>
<text x="477.2" y="144.8" font-size="18" text-anchor="start" textLength="84.6" lengthAdjust="spacingAndGlyphs">Hispanics</text>
<text x="98.8" y="188.8" font-size="18" text-anchor="end" textLength="64.3" lengthAdjust="spacingAndGlyphs">Gender</text>
<rect x="106.6" y="169.2" width="24" height="24" fill="#F03A18" stroke="#333" stroke-width="1.4"/>
<text x="141.5" y="188.8" font-size="18" text-anchor="start" textLength="64" lengthAdjust="spacingAndGlyphs">Female</text>
<rect x="221.7" y="169.2" width="24" height="24" fill="#E2BC6F" stroke="#333" stroke-width="1.4"/>
<text x="256.5" y="188.8" font-size="18" text-anchor="start" textLength="42" lengthAdjust="spacingAndGlyphs">Male</text>
<rect x="581.3" y="73.2" width="24" height="24" fill="#8DD3C7" stroke="#333" stroke-width="1.4"/>
<text x="616.5" y="91.5" font-size="18" text-anchor="start" textLength="122.8" lengthAdjust="spacingAndGlyphs">Transcriptoics</text>
<rect x="581.3" y="110" width="24" height="24" fill="#FEE66E" stroke="#333" stroke-width="1.4"/>
<text x="616.5" y="128.6" font-size="18" text-anchor="start" textLength="98" lengthAdjust="spacingAndGlyphs">Proteomics</text>
<rect x="581.3" y="148.3" width="24" height="24" fill="#BEBADA" stroke="#333" stroke-width="1.4"/>
<text x="616.5" y="166.6" font-size="18" text-anchor="start" textLength="122.8" lengthAdjust="spacingAndGlyphs">Metabolomics</text>
<rect x="752.4" y="73.2" width="24" height="24" fill="#FB7B6E" stroke="#333" stroke-width="1.4"/>
<text x="786.5" y="91" font-size="18" text-anchor="start" textLength="77" lengthAdjust="spacingAndGlyphs">Cytokine</text>
<rect x="752.4" y="110" width="24" height="24" fill="#7FB0D4" stroke="#333" stroke-width="1.4"/>
<text x="786.5" y="128.6" font-size="18" text-anchor="start" textLength="136" lengthAdjust="spacingAndGlyphs">Clinical lab test</text>
<rect x="752.4" y="148.3" width="24" height="24" fill="#FDB462" stroke="#333" stroke-width="1.4"/>
<text x="786.5" y="169.6" font-size="18" text-anchor="start" textLength="95" lengthAdjust="spacingAndGlyphs">Lipidomics</text>
<text x="915.6" y="60" font-size="18" text-anchor="start" textLength="105" lengthAdjust="spacingAndGlyphs">Microbiome</text>
<rect x="934.7" y="73.2" width="24" height="24" fill="#B0DC66" stroke="#333" stroke-width="1.4"/>
<text x="968.6" y="91.5" font-size="18" text-anchor="start" textLength="31" lengthAdjust="spacingAndGlyphs">Gut</text>
<rect x="934.7" y="110" width="24" height="24" fill="#FCCDE5" stroke="#333" stroke-width="1.4"/>
<text x="968.6" y="125.6" font-size="18" text-anchor="start" textLength="36" lengthAdjust="spacingAndGlyphs">Skin</text>
<rect x="934.7" y="148.3" width="24" height="24" fill="#BC80BD" stroke="#333" stroke-width="1.4"/>
<text x="968.6" y="162.7" font-size="18" text-anchor="start" textLength="36.5" lengthAdjust="spacingAndGlyphs">Oral</text>
<rect x="934.7" y="187" width="24" height="24" fill="#CCEBC5" stroke="#333" stroke-width="1.4"/>
<text x="968.6" y="204.8" font-size="18" text-anchor="start" textLength="47.5" lengthAdjust="spacingAndGlyphs">Nasal</text>
</g>
<text x="7.5" y="30" font-size="36" font-weight="bold" fill="#000" textLength="21" lengthAdjust="spacingAndGlyphs">a</text>
<text x="1076" y="28.5" font-size="37" font-weight="bold" fill="#000" textLength="24.5" lengthAdjust="spacingAndGlyphs">b</text>
<rect x="95.8" y="324.8" width="87.8" height="343.7" fill="#fff" stroke="#222" stroke-width="1.4"/>
<rect x="191.5" y="324.8" width="87.9" height="343.7" fill="#fff" stroke="#222" stroke-width="1.4"/>
<path d="M140 343V431.4M140 508.6V616" stroke="#222" stroke-width="1.3"/>
<rect x="102.6" y="431.4" width="74.9" height="77.2" fill="none" stroke="#222" stroke-width="1.3"/>
<path d="M102.6 464.2H177.5" stroke="#222" stroke-width="1.3"/>
<g fill="#5C1A7E"><circle cx="140" cy="343.2" r="3.45"/><circle cx="140" cy="354.5" r="3.45"/><circle cx="140" cy="366.3" r="3.45"/><circle cx="127.4" cy="380.2" r="3.45"/><circle cx="133.7" cy="380.2" r="3.45"/><circle cx="140" cy="380.2" r="3.45"/><circle cx="146.3" cy="380.2" r="3.45"/><circle cx="152.6" cy="380.2" r="3.45"/><circle cx="133.7" cy="390.6" r="3.45"/><circle cx="140" cy="390.6" r="3.45"/><circle cx="146.3" cy="390.6" r="3.45"/><circle cx="133.7" cy="397.4" r="3.45"/><circle cx="140" cy="397.4" r="3.45"/><circle cx="146.3" cy="397.4" r="3.45"/><circle cx="130.6" cy="406.6" r="3.45"/><circle cx="136.8" cy="406.6" r="3.45"/><circle cx="143.2" cy="406.6" r="3.45"/><circle cx="149.4" cy="406.6" r="3.45"/><circle cx="127.4" cy="413.5" r="3.45"/><circle cx="133.7" cy="413.5" r="3.45"/><circle cx="140" cy="413.5" r="3.45"/><circle cx="146.3" cy="413.5" r="3.45"/><circle cx="152.6" cy="413.5" r="3.45"/><circle cx="127.4" cy="420.5" r="3.45"/><circle cx="133.7" cy="420.5" r="3.45"/><circle cx="140" cy="420.5" r="3.45"/><circle cx="146.3" cy="420.5" r="3.45"/><circle cx="152.6" cy="420.5" r="3.45"/><circle cx="124.2" cy="427.5" r="3.45"/><circle cx="130.6" cy="427.5" r="3.45"/><circle cx="136.8" cy="427.5" r="3.45"/><circle cx="143.2" cy="427.5" r="3.45"/><circle cx="149.4" cy="427.5" r="3.45"/><circle cx="155.8" cy="427.5" r="3.45"/><circle cx="118" cy="434.4" r="3.45"/><circle cx="124.2" cy="434.4" r="3.45"/><circle cx="130.6" cy="434.4" r="3.45"/><circle cx="136.8" cy="434.4" r="3.45"/><circle cx="143.2" cy="434.4" r="3.45"/><circle cx="149.4" cy="434.4" r="3.45"/><circle cx="155.8" cy="434.4" r="3.45"/><circle cx="162.1" cy="434.4" r="3.45"/><circle cx="124.2" cy="440.5" r="3.45"/><circle cx="130.6" cy="440.5" r="3.45"/><circle cx="136.8" cy="440.5" r="3.45"/><circle cx="143.2" cy="440.5" r="3.45"/><circle cx="149.4" cy="440.5" r="3.45"/><circle cx="155.8" cy="440.5" r="3.45"/><circle cx="130.6" cy="445.8" r="3.45"/><circle cx="136.8" cy="445.8" r="3.45"/><circle cx="143.2" cy="445.8" r="3.45"/><circle cx="149.4" cy="445.8" r="3.45"/><circle cx="130.6" cy="451" r="3.45"/><circle cx="136.8" cy="451" r="3.45"/><circle cx="143.2" cy="451" r="3.45"/><circle cx="149.4" cy="451" r="3.45"/><circle cx="127.4" cy="457.5" r="3.45"/><circle cx="133.7" cy="457.5" r="3.45"/><circle cx="140" cy="457.5" r="3.45"/><circle cx="146.3" cy="457.5" r="3.45"/><circle cx="152.6" cy="457.5" r="3.45"/><circle cx="127.4" cy="464" r="3.45"/><circle cx="133.7" cy="464" r="3.45"/><circle cx="140" cy="464" r="3.45"/><circle cx="146.3" cy="464" r="3.45"/><circle cx="152.6" cy="464" r="3.45"/><circle cx="127.4" cy="470" r="3.45"/><circle cx="133.7" cy="470" r="3.45"/><circle cx="140" cy="470" r="3.45"/><circle cx="146.3" cy="470" r="3.45"/><circle cx="152.6" cy="470" r="3.45"/><circle cx="121.1" cy="476" r="3.45"/><circle cx="127.4" cy="476" r="3.45"/><circle cx="133.7" cy="476" r="3.45"/><circle cx="140" cy="476" r="3.45"/><circle cx="146.3" cy="476" r="3.45"/><circle cx="152.6" cy="476" r="3.45"/><circle cx="158.9" cy="476" r="3.45"/><circle cx="130.6" cy="484.2" r="3.45"/><circle cx="136.8" cy="484.2" r="3.45"/><circle cx="143.2" cy="484.2" r="3.45"/><circle cx="149.4" cy="484.2" r="3.45"/><circle cx="127.4" cy="492.8" r="3.45"/><circle cx="133.7" cy="492.8" r="3.45"/><circle cx="140" cy="492.8" r="3.45"/><circle cx="146.3" cy="492.8" r="3.45"/><circle cx="152.6" cy="492.8" r="3.45"/><circle cx="124.2" cy="499.3" r="3.45"/><circle cx="130.6" cy="499.3" r="3.45"/><circle cx="136.8" cy="499.3" r="3.45"/><circle cx="143.2" cy="499.3" r="3.45"/><circle cx="149.4" cy="499.3" r="3.45"/><circle cx="155.8" cy="499.3" r="3.45"/><circle cx="130.6" cy="508.6" r="3.45"/><circle cx="136.8" cy="508.6" r="3.45"/><circle cx="143.2" cy="508.6" r="3.45"/><circle cx="149.4" cy="508.6" r="3.45"/><circle cx="127.4" cy="515.5" r="3.45"/><circle cx="133.7" cy="515.5" r="3.45"/><circle cx="140" cy="515.5" r="3.45"/><circle cx="146.3" cy="515.5" r="3.45"/><circle cx="152.6" cy="515.5" r="3.45"/><circle cx="130.6" cy="522" r="3.45"/><circle cx="136.8" cy="522" r="3.45"/><circle cx="143.2" cy="522" r="3.45"/><circle cx="149.4" cy="522" r="3.45"/><circle cx="130.6" cy="528.5" r="3.45"/><circle cx="136.8" cy="528.5" r="3.45"/><circle cx="143.2" cy="528.5" r="3.45"/><circle cx="149.4" cy="528.5" r="3.45"/><circle cx="130.6" cy="535.5" r="3.45"/><circle cx="136.8" cy="535.5" r="3.45"/><circle cx="143.2" cy="535.5" r="3.45"/><circle cx="149.4" cy="535.5" r="3.45"/><circle cx="136.8" cy="553.5" r="3.45"/><circle cx="143.2" cy="553.5" r="3.45"/><circle cx="133.7" cy="559.3" r="3.45"/><circle cx="140" cy="559.3" r="3.45"/><circle cx="146.3" cy="559.3" r="3.45"/><circle cx="136.8" cy="568.3" r="3.45"/><circle cx="143.2" cy="568.3" r="3.45"/><circle cx="140" cy="584" r="3.45"/><circle cx="140" cy="601.1" r="3.45"/><circle cx="136.8" cy="613.4" r="3.45"/><circle cx="143.2" cy="613.4" r="3.45"/><circle cx="140" cy="629.7" r="3.45"/><circle cx="140" cy="650.2" r="3.45"/></g>
<path d="M235.2 373V482.3M235.2 564.6V649" stroke="#222" stroke-width="1.3"/>
<rect x="198.5" y="482.3" width="73.7" height="82.3" fill="none" stroke="#222" stroke-width="1.3"/>
<path d="M198.5 523H272.2" stroke="#222" stroke-width="1.3"/>
<g fill="#EE5A24"><circle cx="235.2" cy="345.7" r="4.7"/><circle cx="235.2" cy="373" r="4.7"/><circle cx="231.1" cy="393.7" r="4.7"/><circle cx="239.3" cy="393.7" r="4.7"/><circle cx="231.1" cy="406.6" r="4.7"/><circle cx="239.3" cy="406.6" r="4.7"/><circle cx="235.2" cy="424" r="4.7"/><circle cx="222.9" cy="438.3" r="4.7"/><circle cx="231.1" cy="438.3" r="4.7"/><circle cx="239.3" cy="438.3" r="4.7"/><circle cx="247.5" cy="438.3" r="4.7"/><circle cx="218.8" cy="452" r="4.7"/><circle cx="227" cy="452" r="4.7"/><circle cx="235.2" cy="452" r="4.7"/><circle cx="243.4" cy="452" r="4.7"/><circle cx="251.6" cy="452" r="4.7"/><circle cx="210.6" cy="462.6" r="4.7"/><circle cx="218.8" cy="462.6" r="4.7"/><circle cx="227" cy="462.6" r="4.7"/><circle cx="235.2" cy="462.6" r="4.7"/><circle cx="243.4" cy="462.6" r="4.7"/><circle cx="251.6" cy="462.6" r="4.7"/><circle cx="259.8" cy="462.6" r="4.7"/><circle cx="214.7" cy="472.5" r="4.7"/><circle cx="222.9" cy="472.5" r="4.7"/><circle cx="231.1" cy="472.5" r="4.7"/><circle cx="239.3" cy="472.5" r="4.7"/><circle cx="247.5" cy="472.5" r="4.7"/><circle cx="255.7" cy="472.5" r="4.7"/><circle cx="218.8" cy="485.8" r="4.7"/><circle cx="227" cy="485.8" r="4.7"/><circle cx="235.2" cy="485.8" r="4.7"/><circle cx="243.4" cy="485.8" r="4.7"/><circle cx="251.6" cy="485.8" r="4.7"/><circle cx="214.7" cy="494" r="4.7"/><circle cx="222.9" cy="494" r="4.7"/><circle cx="231.1" cy="494" r="4.7"/><circle cx="239.3" cy="494" r="4.7"/><circle cx="247.5" cy="494" r="4.7"/><circle cx="255.7" cy="494" r="4.7"/><circle cx="202.4" cy="503.4" r="4.7"/><circle cx="210.6" cy="503.4" r="4.7"/><circle cx="218.8" cy="503.4" r="4.7"/><circle cx="227" cy="503.4" r="4.7"/><circle cx="235.2" cy="503.4" r="4.7"/><circle cx="243.4" cy="503.4" r="4.7"/><circle cx="251.6" cy="503.4" r="4.7"/><circle cx="259.8" cy="503.4" r="4.7"/><circle cx="268" cy="503.4" r="4.7"/><circle cx="214.7" cy="511.4" r="4.7"/><circle cx="222.9" cy="511.4" r="4.7"/><circle cx="231.1" cy="511.4" r="4.7"/><circle cx="239.3" cy="511.4" r="4.7"/><circle cx="247.5" cy="511.4" r="4.7"/><circle cx="255.7" cy="511.4" r="4.7"/><circle cx="206.5" cy="522" r="4.7"/><circle cx="214.7" cy="522" r="4.7"/><circle cx="222.9" cy="522" r="4.7"/><circle cx="231.1" cy="522" r="4.7"/><circle cx="239.3" cy="522" r="4.7"/><circle cx="247.5" cy="522" r="4.7"/><circle cx="255.7" cy="522" r="4.7"/><circle cx="263.9" cy="522" r="4.7"/><circle cx="214.7" cy="533" r="4.7"/><circle cx="222.9" cy="533" r="4.7"/><circle cx="231.1" cy="533" r="4.7"/><circle cx="239.3" cy="533" r="4.7"/><circle cx="247.5" cy="533" r="4.7"/><circle cx="255.7" cy="533" r="4.7"/><circle cx="202.4" cy="541.4" r="4.7"/><circle cx="210.6" cy="541.4" r="4.7"/><circle cx="218.8" cy="541.4" r="4.7"/><circle cx="227" cy="541.4" r="4.7"/><circle cx="235.2" cy="541.4" r="4.7"/><circle cx="243.4" cy="541.4" r="4.7"/><circle cx="251.6" cy="541.4" r="4.7"/><circle cx="259.8" cy="541.4" r="4.7"/><circle cx="268" cy="541.4" r="4.7"/><circle cx="210.6" cy="551.5" r="4.7"/><circle cx="218.8" cy="551.5" r="4.7"/><circle cx="227" cy="551.5" r="4.7"/><circle cx="235.2" cy="551.5" r="4.7"/><circle cx="243.4" cy="551.5" r="4.7"/><circle cx="251.6" cy="551.5" r="4.7"/><circle cx="259.8" cy="551.5" r="4.7"/><circle cx="218.8" cy="561.6" r="4.7"/><circle cx="227" cy="561.6" r="4.7"/><circle cx="235.2" cy="561.6" r="4.7"/><circle cx="243.4" cy="561.6" r="4.7"/><circle cx="251.6" cy="561.6" r="4.7"/><circle cx="214.7" cy="571.7" r="4.7"/><circle cx="222.9" cy="571.7" r="4.7"/><circle cx="231.1" cy="571.7" r="4.7"/><circle cx="239.3" cy="571.7" r="4.7"/><circle cx="247.5" cy="571.7" r="4.7"/><circle cx="255.7" cy="571.7" r="4.7"/><circle cx="218.8" cy="581" r="4.7"/><circle cx="227" cy="581" r="4.7"/><circle cx="235.2" cy="581" r="4.7"/><circle cx="243.4" cy="581" r="4.7"/><circle cx="251.6" cy="581" r="4.7"/><circle cx="214.7" cy="591" r="4.7"/><circle cx="222.9" cy="591" r="4.7"/><circle cx="231.1" cy="591" r="4.7"/><circle cx="239.3" cy="591" r="4.7"/><circle cx="247.5" cy="591" r="4.7"/><circle cx="255.7" cy="591" r="4.7"/><circle cx="231.1" cy="605.3" r="4.7"/><circle cx="239.3" cy="605.3" r="4.7"/><circle cx="227" cy="614.6" r="4.7"/><circle cx="235.2" cy="614.6" r="4.7"/><circle cx="243.4" cy="614.6" r="4.7"/><circle cx="235.2" cy="634.4" r="4.7"/><circle cx="227" cy="648.7" r="4.7"/><circle cx="235.2" cy="648.7" r="4.7"/><circle cx="243.4" cy="648.7" r="4.7"/></g>
<rect x="117.8" y="408.5" width="45.5" height="19" fill="#9E9E9E" fill-opacity="0.86"/>
<text x="140.5" y="425" font-size="19.5" fill="#fff" text-anchor="middle" textLength="40" lengthAdjust="spacingAndGlyphs">61.0</text>
<rect x="116.8" y="454" width="45.5" height="19" fill="#9E9E9E" fill-opacity="0.86"/>
<text x="139.5" y="470.5" font-size="19.5" fill="#fff" text-anchor="middle" textLength="40" lengthAdjust="spacingAndGlyphs">55.7</text>
<rect x="116.8" y="511.5" width="45.5" height="19" fill="#9E9E9E" fill-opacity="0.86"/>
<text x="139.5" y="528" font-size="19.5" fill="#fff" text-anchor="middle" textLength="40" lengthAdjust="spacingAndGlyphs">48.7</text>
<rect x="213.1" y="460.5" width="45.5" height="19" fill="#9E9E9E" fill-opacity="0.86"/>
<text x="235.8" y="477" font-size="19.5" fill="#fff" text-anchor="middle" textLength="40" lengthAdjust="spacingAndGlyphs">31.1</text>
<rect x="213.1" y="514" width="45.5" height="19" fill="#9E9E9E" fill-opacity="0.86"/>
<text x="235.8" y="530.5" font-size="19.5" fill="#fff" text-anchor="middle" textLength="40" lengthAdjust="spacingAndGlyphs">28.2</text>
<rect x="213.1" y="567.3" width="45.5" height="19" fill="#9E9E9E" fill-opacity="0.86"/>
<text x="235.8" y="583.8" font-size="19.5" fill="#fff" text-anchor="middle" textLength="40" lengthAdjust="spacingAndGlyphs">25.2</text>
<rect x="287.4" y="324.8" width="43.4" height="178.4" fill="#F03A18" stroke="#222" stroke-width="1.2"/>
<rect x="287.4" y="503.2" width="43.4" height="165.3" fill="#E2BC6F" stroke="#222" stroke-width="1.2"/>
<text transform="translate(316.7 414.8) rotate(-90)" font-size="21" font-weight="bold" fill="#fff" text-anchor="middle" textLength="42" lengthAdjust="spacingAndGlyphs">51.9</text>
<text transform="translate(316.7 586.6) rotate(-90)" font-size="21" font-weight="bold" fill="#fff" text-anchor="middle" textLength="42" lengthAdjust="spacingAndGlyphs">48.1</text>
<rect x="339.4" y="324.8" width="43.6" height="70.1" fill="#176B9D" stroke="#222" stroke-width="1.2"/>
<rect x="339.4" y="394.9" width="43.6" height="25.4" fill="#ACDDE1" stroke="#222" stroke-width="1.2"/>
<rect x="339.4" y="420.3" width="43.6" height="225.8" fill="#F0CFB7" stroke="#222" stroke-width="1.2"/>
<rect x="339.4" y="646.2" width="43.6" height="12.7" fill="#DBA050" stroke="#222" stroke-width="1.2"/>
<rect x="339.4" y="658.9" width="43.6" height="9.6" fill="#8C8C8C" stroke="#222" stroke-width="1.2"/>
<text transform="translate(368.8 360.7) rotate(-90)" font-size="21" font-weight="bold" fill="#fff" text-anchor="middle" textLength="42" lengthAdjust="spacingAndGlyphs">20.4</text>
<text transform="translate(368.8 408.4) rotate(-90)" font-size="21" font-weight="bold" fill="#fff" text-anchor="middle" textLength="31" lengthAdjust="spacingAndGlyphs">7.4</text>
<text transform="translate(368.8 534.1) rotate(-90)" font-size="21" font-weight="bold" fill="#fff" text-anchor="middle" textLength="42" lengthAdjust="spacingAndGlyphs">65.7</text>
<text transform="translate(368.8 611.5) rotate(-90)" font-size="21" font-weight="bold" fill="#fff" text-anchor="middle" textLength="31" lengthAdjust="spacingAndGlyphs">3.7</text>
<text transform="translate(368.8 655) rotate(-90)" font-size="21" font-weight="bold" fill="#fff" text-anchor="middle" textLength="31" lengthAdjust="spacingAndGlyphs">2.8</text>
<rect x="391.6" y="324.8" width="43.8" height="114.5" fill="#3E98B4" stroke="#222" stroke-width="1.2"/>
<rect x="391.6" y="439.3" width="43.8" height="108.3" fill="#EE1C0E" stroke="#222" stroke-width="1.2"/>
<rect x="391.6" y="547.5" width="43.8" height="121" fill="#BDBDBD" stroke="#222" stroke-width="1.2"/>
<text transform="translate(421.1 382.8) rotate(-90)" font-size="21" font-weight="bold" fill="#fff" text-anchor="middle" textLength="42" lengthAdjust="spacingAndGlyphs">33.3</text>
<text transform="translate(421.1 494.2) rotate(-90)" font-size="21" font-weight="bold" fill="#fff" text-anchor="middle" textLength="42" lengthAdjust="spacingAndGlyphs">31.5</text>
<text transform="translate(421.1 608.8) rotate(-90)" font-size="21" font-weight="bold" fill="#fff" text-anchor="middle" textLength="42" lengthAdjust="spacingAndGlyphs">35.2</text>
<g fill="#111" font-size="18">
<text transform="translate(136 287.6)" text-anchor="middle" textLength="38.9" lengthAdjust="spacingAndGlyphs">Age</text>
<text transform="translate(135.4 313)" text-anchor="middle" textLength="65.6" lengthAdjust="spacingAndGlyphs">(years)</text>
<text transform="translate(230.3 313)" text-anchor="middle" textLength="35.5" lengthAdjust="spacingAndGlyphs">BMI</text>
<text transform="translate(314 316) rotate(-43)" text-anchor="start" textLength="104" lengthAdjust="spacingAndGlyphs">Gender (%)</text>
<text transform="translate(356.5 316) rotate(-44)" text-anchor="start" textLength="117" lengthAdjust="spacingAndGlyphs">Ethnicity (%)</text>
<text transform="translate(401.5 302.5) rotate(-44)" text-anchor="start" textLength="60" lengthAdjust="spacingAndGlyphs">Insulin</text>
<text transform="translate(417.5 316) rotate(-45)" text-anchor="start" textLength="119" lengthAdjust="spacingAndGlyphs">response (%)</text>
<text transform="translate(68.5 668) rotate(-90)" text-anchor="start" textLength="131" lengthAdjust="spacingAndGlyphs">Participant ID</text>
</g>
<rect x="1077" y="45" width="735.2" height="250.7" fill="#E8F6EB"/>
<rect x="1077" y="299" width="217" height="841.5" fill="#ECEAF6"/>
<rect x="1298" y="299" width="236" height="81" fill="#E8F6EB"/>
<rect x="1536.5" y="299" width="90.5" height="81" fill="#F5E7F3"/>
<rect x="1630" y="299" width="90" height="81" fill="#F5E7F3"/>
<rect x="1722.5" y="299" width="89.7" height="81" fill="#F5E7F3"/>
<rect x="1298" y="382.5" width="236" height="73" fill="#E8F6EB"/>
<rect x="1536.5" y="382.5" width="90.5" height="73" fill="#F5E7F3"/>
<rect x="1630" y="382.5" width="90" height="73" fill="#F5E7F3"/>
<rect x="1722.5" y="382.5" width="89.7" height="73" fill="#F5E7F3"/>
<rect x="1298" y="458.7" width="236" height="83.3" fill="#E8F6EB"/>
<rect x="1536.5" y="458.7" width="90.5" height="83.3" fill="#F5E7F3"/>
<rect x="1630" y="458.7" width="90" height="83.3" fill="#F5E7F3"/>
<rect x="1722.5" y="458.7" width="89.7" height="83.3" fill="#F5E7F3"/>
<rect x="1298" y="545.5" width="236" height="70.5" fill="#E8F6EB"/>
<rect x="1536.5" y="545.5" width="90.5" height="70.5" fill="#F5E7F3"/>
<rect x="1630" y="545.5" width="90" height="70.5" fill="#F5E7F3"/>
<rect x="1722.5" y="545.5" width="89.7" height="70.5" fill="#F5E7F3"/>
<rect x="1298" y="619" width="236" height="82" fill="#E8F6EB"/>
<rect x="1536.5" y="619" width="90.5" height="82" fill="#F5E7F3"/>
<rect x="1630" y="619" width="90" height="82" fill="#F5E7F3"/>
<rect x="1722.5" y="619" width="89.7" height="82" fill="#F5E7F3"/>
<rect x="1298" y="704.5" width="236" height="74.5" fill="#E8F6EB"/>
<rect x="1536.5" y="704.5" width="90.5" height="74.5" fill="#F5E7F3"/>
<rect x="1630" y="704.5" width="90" height="74.5" fill="#F5E7F3"/>
<rect x="1722.5" y="704.5" width="89.7" height="74.5" fill="#F5E7F3"/>
<rect x="1298" y="782" width="236" height="87" fill="#E8F6EB"/>
<rect x="1536.5" y="782" width="90.5" height="87" fill="#F5E7F3"/>
<rect x="1630" y="782" width="90" height="87" fill="#F5E7F3"/>
<rect x="1722.5" y="782" width="89.7" height="87" fill="#F5E7F3"/>
<rect x="1298" y="872" width="236" height="92" fill="#E8F6EB"/>
<rect x="1536.5" y="872" width="90.5" height="92" fill="#F5E7F3"/>
<rect x="1630" y="872" width="90" height="92" fill="#F5E7F3"/>
<rect x="1722.5" y="872" width="89.7" height="92" fill="#F5E7F3"/>
<rect x="1298" y="967.5" width="236" height="96" fill="#E8F6EB"/>
<rect x="1536.5" y="967.5" width="90.5" height="96" fill="#F5E7F3"/>
<rect x="1630" y="967.5" width="90" height="96" fill="#F5E7F3"/>
<rect x="1722.5" y="967.5" width="89.7" height="96" fill="#F5E7F3"/>
<rect x="1298" y="1066.7" width="236" height="73.8" fill="#E8F6EB"/>
<rect x="1536.5" y="1066.7" width="90.5" height="73.8" fill="#F5E7F3"/>
<rect x="1630" y="1066.7" width="90" height="73.8" fill="#F5E7F3"/>
<rect x="1722.5" y="1066.7" width="89.7" height="73.8" fill="#F5E7F3"/>
<defs><marker id="ah" viewBox="0 0 13 11" refX="11.5" refY="5.5" markerWidth="13" markerHeight="11" markerUnits="userSpaceOnUse" orient="auto"><path d="M0 0.2L13 5.5L0 10.8L3 5.5Z" fill="#44546A"/></marker><marker id="ahb" viewBox="0 0 17 14" refX="15" refY="7" markerWidth="17" markerHeight="14" markerUnits="userSpaceOnUse" orient="auto"><path d="M0 0.2L17 7L0 13.8L3.2 7Z" fill="#44546A"/></marker></defs>
<g fill="#111">
<text x="1258" y="93.5" font-size="21" text-anchor="start" textLength="172.8" lengthAdjust="spacingAndGlyphs">108 participants</text>
<text x="1197" y="165.6" font-size="21" text-anchor="start" textLength="113.7" lengthAdjust="spacingAndGlyphs">Start point</text>
<text x="1678.2" y="165.6" font-size="21" text-anchor="start" textLength="102.4" lengthAdjust="spacingAndGlyphs">End point</text>
<text transform="translate(1562.5 278) rotate(-44)" font-size="21" textLength="106" lengthAdjust="spacingAndGlyphs">Participant</text>
<text transform="translate(1577.5 294) rotate(-44)" font-size="21" textLength="76" lengthAdjust="spacingAndGlyphs">number</text>
<text transform="translate(1662.5 278) rotate(-44)" font-size="21" textLength="74" lengthAdjust="spacingAndGlyphs">Sample</text>
<text transform="translate(1678.5 294) rotate(-44)" font-size="21" textLength="76" lengthAdjust="spacingAndGlyphs">number</text>
<text transform="translate(1741.5 278) rotate(-44)" font-size="21" textLength="81" lengthAdjust="spacingAndGlyphs">Variable</text>
<text transform="translate(1758.5 294) rotate(-44)" font-size="21" textLength="76" lengthAdjust="spacingAndGlyphs">number</text>
<text x="1367.6" y="346.2" font-size="21" text-anchor="start" textLength="158" lengthAdjust="spacingAndGlyphs">Transcriptomics</text>
<text x="1367.6" y="422" font-size="21" text-anchor="start" textLength="109.6" lengthAdjust="spacingAndGlyphs">Proteomics</text>
<text x="1367.6" y="506.3" font-size="21" text-anchor="start" textLength="137.8" lengthAdjust="spacingAndGlyphs">Metabolomics</text>
<text x="1367.6" y="582.6" font-size="21" text-anchor="start" textLength="95.7" lengthAdjust="spacingAndGlyphs">Cytokines</text>
<text x="1367.6" y="744.1" font-size="21" text-anchor="start" textLength="105.4" lengthAdjust="spacingAndGlyphs">Lipidomics</text>
<text x="1367.6" y="821.2" font-size="21" text-anchor="start" textLength="34.6" lengthAdjust="spacingAndGlyphs">Gut</text>
<text x="1367.6" y="844.4" font-size="21" text-anchor="start" textLength="117.2" lengthAdjust="spacingAndGlyphs">microbiome</text>
<text x="1367.6" y="911.8" font-size="21" text-anchor="start" textLength="40" lengthAdjust="spacingAndGlyphs">Skin</text>
<text x="1367.6" y="935" font-size="21" text-anchor="start" textLength="117.2" lengthAdjust="spacingAndGlyphs">microbiome</text>
<text x="1367.6" y="1012.8" font-size="21" text-anchor="start" textLength="40.9" lengthAdjust="spacingAndGlyphs">Oral</text>
<text x="1367.6" y="1036" font-size="21" text-anchor="start" textLength="117.2" lengthAdjust="spacingAndGlyphs">microbiome</text>
<text x="1367.6" y="1101.3" font-size="21" text-anchor="start" textLength="52.7" lengthAdjust="spacingAndGlyphs">Nasal</text>
<text x="1367.6" y="1124.5" font-size="21" text-anchor="start" textLength="117.2" lengthAdjust="spacingAndGlyphs">microbiome</text>
<text x="1365.5" y="664.5" font-size="21" text-anchor="start" textLength="150.9" lengthAdjust="spacingAndGlyphs">Clinical lab test</text>
<text x="1579.6" y="346.2" font-size="21" text-anchor="middle">100</text>
<text x="1676.1" y="346.2" font-size="21" text-anchor="middle">879</text>
<text x="1768" y="345.7" font-size="21" text-anchor="middle">8,556</text>
<text x="1579.6" y="422" font-size="21" text-anchor="middle">104</text>
<text x="1676.1" y="422" font-size="21" text-anchor="middle">947</text>
<text x="1768" y="421.5" font-size="21" text-anchor="middle">302</text>
<text x="1579.6" y="506.3" font-size="21" text-anchor="middle">99</text>
<text x="1676.1" y="506.3" font-size="21" text-anchor="middle">919</text>
<text x="1768" y="505.8" font-size="21" text-anchor="middle">814</text>
<text x="1579.6" y="582.6" font-size="21" text-anchor="middle">91</text>
<text x="1676.1" y="582.6" font-size="21" text-anchor="middle">962</text>
<text x="1768" y="582.1" font-size="21" text-anchor="middle">62</text>
<text x="1579.6" y="664.5" font-size="21" text-anchor="middle">102</text>
<text x="1676.1" y="664.5" font-size="21" text-anchor="middle">967</text>
<text x="1768" y="664" font-size="21" text-anchor="middle">51</text>
<text x="1579.6" y="744.1" font-size="21" text-anchor="middle">100</text>
<text x="1676.1" y="744.1" font-size="21" text-anchor="middle">933</text>
<text x="1768" y="743.6" font-size="21" text-anchor="middle">846</text>
<text x="1579.6" y="836" font-size="21" text-anchor="middle">78</text>
<text x="1676.1" y="836" font-size="21" text-anchor="middle">729</text>
<text x="1579.6" y="925.7" font-size="21" text-anchor="middle">85</text>
<text x="1676.1" y="925.7" font-size="21" text-anchor="middle">630</text>
<text x="1579.6" y="1026.7" font-size="21" text-anchor="middle">86</text>
<text x="1676.1" y="1026.7" font-size="21" text-anchor="middle">786</text>
<text x="1579.6" y="1115.2" font-size="21" text-anchor="middle">84</text>
<text x="1676.1" y="1115.2" font-size="21" text-anchor="middle">740</text>
<text x="1768" y="820.4" font-size="21" text-anchor="middle">1,230</text>
<text x="1768" y="843.6" font-size="21" text-anchor="middle" textLength="68" lengthAdjust="spacingAndGlyphs">genera</text>
<text x="1768" y="911.2" font-size="21" text-anchor="middle">1,129</text>
<text x="1768" y="934.4" font-size="21" text-anchor="middle" textLength="68" lengthAdjust="spacingAndGlyphs">genera</text>
<text x="1768" y="1012.2" font-size="21" text-anchor="middle">1,129</text>
<text x="1768" y="1035.4" font-size="21" text-anchor="middle" textLength="68" lengthAdjust="spacingAndGlyphs">genera</text>
<text x="1768" y="1100.7" font-size="21" text-anchor="middle">1,230</text>
<text x="1768" y="1123.9" font-size="21" text-anchor="middle" textLength="68" lengthAdjust="spacingAndGlyphs">genera</text>
<text x="1121.3" y="474.7" font-size="21" text-anchor="middle" textLength="69" lengthAdjust="spacingAndGlyphs">Plasma</text>
<text x="1121.3" y="839" font-size="21" text-anchor="middle" textLength="51.4" lengthAdjust="spacingAndGlyphs">Stool</text>
<text x="1121.3" y="939.2" font-size="21" text-anchor="middle" textLength="40.5" lengthAdjust="spacingAndGlyphs">Skin</text>
<text x="1121.3" y="1031.7" font-size="21" text-anchor="middle" textLength="42" lengthAdjust="spacingAndGlyphs">Oral</text>
<text x="1121.3" y="1135" font-size="21" text-anchor="middle" textLength="53.5" lengthAdjust="spacingAndGlyphs">Nasal</text>
<text x="1094.6" y="1168.7" font-size="21" text-anchor="start" textLength="176" lengthAdjust="spacingAndGlyphs">Sample collection</text>
<text x="1341.5" y="1168.7" font-size="21" text-anchor="start" textLength="155.5" lengthAdjust="spacingAndGlyphs">Data acquisition</text>
<text x="1589.7" y="1168.7" font-size="21" text-anchor="start" textLength="161.4" lengthAdjust="spacingAndGlyphs">Data information</text>
</g>
<path d="M1260.6 104.3L1451.3 104.3" stroke="#44546A" stroke-width="3.4" fill="none" marker-end="url(#ahb)"/>
<path d="M1201 137.8L1790.5 137.8" stroke="#44546A" stroke-width="3.4" fill="none" marker-end="url(#ahb)"/>
<path d="M1201 174L1565.5 174" stroke="#44546A" stroke-width="3.4" fill="none" marker-end="url(#ahb)"/>
<path d="M1235.3 209.9L1388 209.9" stroke="#44546A" stroke-width="3.4" fill="none" marker-end="url(#ahb)"/>
<path d="M1263.5 210C1263 300 1215 372 1126.6 382" stroke="#44546A" stroke-width="2.6" fill="none" marker-end="url(#ah)"/>
<path d="M1161 427.5L1294.7 346.1" stroke="#44546A" stroke-width="2.5" fill="none" marker-end="url(#ah)"/>
<path d="M1161 427.5L1294.5 416.1" stroke="#44546A" stroke-width="2.5" fill="none" marker-end="url(#ah)"/>
<path d="M1161 427.5L1294.7 502.6" stroke="#44546A" stroke-width="2.5" fill="none" marker-end="url(#ah)"/>
<path d="M1161 427.5L1295 577.9" stroke="#44546A" stroke-width="2.5" fill="none" marker-end="url(#ah)"/>
<path d="M1161 427.5L1295.2 651.4" stroke="#44546A" stroke-width="2.5" fill="none" marker-end="url(#ah)"/>
<path d="M1161 427.5L1295.4 734.6" stroke="#44546A" stroke-width="2.5" fill="none" marker-end="url(#ah)"/>
<path d="M1149.8 813.2L1294.5 813.2" stroke="#44546A" stroke-width="2.2" fill="none" marker-end="url(#ah)"/>
<path d="M1149.8 911L1294.5 911" stroke="#44546A" stroke-width="2.2" fill="none" marker-end="url(#ah)"/>
<path d="M1149.8 1012.8L1294.5 1012.8" stroke="#44546A" stroke-width="2.2" fill="none" marker-end="url(#ah)"/>
<path d="M1149.8 1108.4L1294.5 1108.4" stroke="#44546A" stroke-width="2.2" fill="none" marker-end="url(#ah)"/>
<g fill="#651C86">
<circle cx="1145.2" cy="69.3" r="10.6"/>
<path d="M1128.4 127.1V91.5a5.4 5.4 0 0 1 5.4-5.4h23.4a5.4 5.4 0 0 1 5.4 5.4V127.1Z"/>
<rect x="1134.7" y="126" width="9.1" height="42.4"/><rect x="1146.6" y="126" width="9.5" height="42.4"/>
<circle cx="1145.2" cy="187" r="10.6"/>
<path d="M1130.5 204.8H1160.9L1175.8 226.2L1170.6 230L1159.2 214.5L1168.9 252.7H1120.6L1131.5 214.5L1119.6 230L1114.3 226.2Z"/>
<path d="M1133.6 252H1143.7V287H1136.2Z"/><path d="M1146.6 252H1156.3L1153.8 287H1146.6Z"/>
</g>
<g fill="none" stroke="#8ED2C8" stroke-width="4" stroke-linecap="butt">
<path d="M1343.5 310.8L1363 329.6M1338.7 319.5L1354.2 334.3M1336.4 327.4L1344.8 335.7M1307.8 343.8L1326.6 362.6M1317.2 337.7L1332.7 353.9M1324.6 337L1334 345.1" stroke-width="3.4"/>
<path d="M1301.7 347.8C1312 338 1322 335.5 1334.7 335.7S1358 335 1368.4 324.9"/>
<path d="M1346.1 303.4C1337 314 1334.5 324 1334.7 335.7S1334 358 1323.3 369.3"/>
</g>
<g fill="none" stroke="#FEE76A" stroke-linecap="round">
<path d="M1340.6 394.8L1318.5 424.5" stroke-width="10.5" stroke-linecap="butt"/>
<path d="M1307.8 417.6L1310.6 434.2L1327.4 431.6Z" fill="#FEE76A" stroke-width="1.5" stroke-linejoin="round"/>
<path d="M1344.8 391.4C1352.2 387.6 1360 390.8 1358.6 397.5C1357.6 401.5 1353 403 1352.2 406.9" stroke-width="2" stroke="#FBEF9A"/>
<path d="M1352.9 408.3Q1358 409.5 1359.4 415" stroke-width="6"/>
<path d="M1341.8 420.8Q1350 418.5 1358 421" stroke-width="5.5"/>
<path d="M1338.3 427.3Q1343 428 1346 433" stroke-width="5"/>
<path d="M1326 438.2Q1335 439 1343.2 442.4" stroke-width="7"/>
</g>
<g fill="none" stroke="#BCC1D4" stroke-width="2.4" stroke-linecap="round">
<path d="M1335 480.2L1355.9 493.6M1355.9 493.6L1355.9 517.9M1355.9 517.9L1342.5 525.3M1327.5 525.3L1314.2 517.9M1314.2 517.9L1314.2 493.6M1314.2 493.6L1335 480.2M1335 475.8V468.7M1310.5 491L1302.4 485.6M1359.6 520.2L1367.7 525.6M1318.6 501V509.8M1351.5 501V509.8M1340.8 490.3L1346.8 493.3"/>
<circle cx="1335" cy="480.2" r="4.3" fill="#E6E8F3"/>
<circle cx="1355.9" cy="493.6" r="4.3" fill="#E6E8F3"/>
<circle cx="1355.9" cy="517.9" r="4.3" fill="#E6E8F3"/>
<circle cx="1314.2" cy="517.9" r="4.3" fill="#E6E8F3"/>
<circle cx="1314.2" cy="493.6" r="4.3" fill="#E6E8F3"/>
</g>
<text x="1335" y="535.3" font-size="13.5" font-weight="bold" fill="#BCC1D4" text-anchor="middle">H</text>
<g fill="#F9ECE8" stroke="#C68F89" stroke-width="1.5">
<path d="M1312.5 561.5C1322 559 1334 564 1335.6 574C1337 584 1331 593.5 1323 594C1313 593 1303.5 586 1304.6 577C1305.5 570 1308 564 1312.5 561.5Z"/>
<path d="M1337.5 578C1344 575.5 1353 579 1355 586C1356.5 594 1351.5 601 1346 601.5C1338 600.5 1331.5 596 1331.8 589.5C1332.5 585 1334 580.5 1337.5 578Z"/>
<path d="M1342.5 552.5C1347.5 551.5 1353.5 553.5 1354.6 559C1355.3 564.5 1352.5 569.5 1348.5 569.5C1343.5 569 1339.3 566 1339.3 561.5C1339.5 558 1340.5 554 1342.5 552.5Z"/>
</g>
<g fill="#FA7A6C"><circle cx="1321.2" cy="575.3" r="7.2"/><circle cx="1343.5" cy="589.2" r="5.4"/><circle cx="1347.2" cy="560.7" r="3.5"/></g>
<g fill="#D7908E"><circle cx="1319.2" cy="557.8" r="2.2"/><circle cx="1365.3" cy="563.6" r="2.5"/><circle cx="1362" cy="572.3" r="2.2"/><rect x="1301.6" y="594" width="4.4" height="4.4" rx="1"/><circle cx="1318.9" cy="602.9" r="1.5"/><circle cx="1358.6" cy="601.2" r="1.5"/><circle cx="1368.4" cy="604.9" r="2.5"/></g>
<g fill="none" stroke="#87AEC8" stroke-width="2.8" stroke-linecap="butt">
<path d="M1358.6 662.4V637.5a4 4 0 0 0-4-4H1313.8a4 4 0 0 0-4 4V684a4 4 0 0 0 4 4H1339.6"/>
<path d="M1317.9 646.2H1350.9M1317.9 656.7H1342.8M1317.9 668.1H1336.7"/>
<path d="M1342 666.4H1347.6M1354.4 666.4H1360M1343.5 666.4V669.7a7.55 7.55 0 0 0 15.1 0V666.4"/>
<path d="M1351.5 677V681.4a4.9 4.9 0 0 0 9.8 0V678"/>
</g>
<path d="M1315.5 715.1C1320.5 715.1 1323.1 721 1323.1 727C1323.1 733 1319 737 1315.5 739.5C1312 737 1307.9 733 1307.9 727C1307.9 721 1310.5 715.1 1315.5 715.1Z" fill="#FDAD55" stroke="#EBAE66" stroke-width="1"/>
<path d="M1314.5 738C1308 741 1310.5 746.5 1315.5 751.8S1323 762 1317.5 766M1316.5 738C1323 741 1320.5 746.5 1315.5 751.8S1308 762 1313.5 766" fill="none" stroke="#E4AA68" stroke-width="1.8"/>
<path d="M1335.4 715.1C1340.4 715.1 1343 721 1343 727C1343 733 1338.9 737 1335.4 739.5C1331.9 737 1327.8 733 1327.8 727C1327.8 721 1330.4 715.1 1335.4 715.1Z" fill="#FDAD55" stroke="#EBAE66" stroke-width="1"/>
<path d="M1334.4 738C1327.9 741 1330.4 746.5 1335.4 751.8S1342.9 762 1337.4 766M1336.4 738C1342.9 741 1340.4 746.5 1335.4 751.8S1327.9 762 1333.4 766" fill="none" stroke="#E4AA68" stroke-width="1.8"/>
<path d="M1354.9 715.1C1359.9 715.1 1362.5 721 1362.5 727C1362.5 733 1358.4 737 1354.9 739.5C1351.4 737 1347.3 733 1347.3 727C1347.3 721 1349.9 715.1 1354.9 715.1Z" fill="#FDAD55" stroke="#EBAE66" stroke-width="1"/>
<path d="M1353.9 738C1347.4 741 1349.9 746.5 1354.9 751.8S1362.4 762 1356.9 766M1355.9 738C1362.4 741 1359.9 746.5 1354.9 751.8S1347.4 762 1352.9 766" fill="none" stroke="#E4AA68" stroke-width="1.8"/>
<g transform="translate(1335.1 822.9) rotate(-42)">
<path d="M-6.8 -13.7L-9 -18.1L-11.2 -13.7ZM-8.2 13.7L-6 18.1L-3.8 13.7ZM2.2 -13.7L0 -18.1L-2.2 -13.7ZM0.8 13.7L3 18.1L5.2 13.7ZM11.2 -13.7L9 -18.1L6.8 -13.7ZM9.8 13.7L12 18.1L14.2 13.7ZM21.7 -10L22.4 -14.8L18.1 -12.5ZM-18.1 -12.5L-22.4 -14.8L-21.7 -10ZM25.7 2.2L30.1 0L25.7 -2.2ZM-25.7 -2.2L-30.1 0L-25.7 2.2ZM18.1 12.5L22.4 14.8L21.7 10ZM-21.7 10L-22.4 14.8L-18.1 12.5Z" fill="#A9D86E"/>
<rect x="-24.7" y="-12.7" width="49.4" height="25.4" rx="12.7" fill="#E3F6D6" stroke="#A9D86E" stroke-width="4.8"/>
<rect x="-19" y="-7.2" width="38" height="14.4" rx="7.2" fill="none" stroke="#A3C97F" stroke-width="1.7"/>
<path d="M-6 0.5l2.2-1.8l2.2 1.8l2.2-1.8l2.2 1.8l2.2-1.8" fill="none" stroke="#A3C97F" stroke-width="1.4"/>
<circle cx="-11" cy="1" r="1.3" fill="#A3C97F"/><circle cx="9" cy="3" r="1.3" fill="#A3C97F"/><circle cx="12" cy="-2.5" r="1" fill="#A3C97F"/>
</g>
<path transform="translate(0 0)" d="M1321 842C1312 845 1309 853 1314 856C1320 859 1324 851 1328 849.5C1333 848.5 1336 856 1332.5 863.5" fill="none" stroke="#A9D86E" stroke-width="3.8" stroke-linecap="butt"/>
<g transform="translate(1335.1 913.6) rotate(-42)">
<path d="M-6.8 -13.7L-9 -18.1L-11.2 -13.7ZM-8.2 13.7L-6 18.1L-3.8 13.7ZM2.2 -13.7L0 -18.1L-2.2 -13.7ZM0.8 13.7L3 18.1L5.2 13.7ZM11.2 -13.7L9 -18.1L6.8 -13.7ZM9.8 13.7L12 18.1L14.2 13.7ZM21.7 -10L22.4 -14.8L18.1 -12.5ZM-18.1 -12.5L-22.4 -14.8L-21.7 -10ZM25.7 2.2L30.1 0L25.7 -2.2ZM-25.7 -2.2L-30.1 0L-25.7 2.2ZM18.1 12.5L22.4 14.8L21.7 10ZM-21.7 10L-22.4 14.8L-18.1 12.5Z" fill="#F8C5DB"/>
<rect x="-24.7" y="-12.7" width="49.4" height="25.4" rx="12.7" fill="#FBEFF2" stroke="#F8C5DB" stroke-width="4.8"/>
<rect x="-19" y="-7.2" width="38" height="14.4" rx="7.2" fill="none" stroke="#EDBFD3" stroke-width="1.7"/>
<path d="M-6 0.5l2.2-1.8l2.2 1.8l2.2-1.8l2.2 1.8l2.2-1.8" fill="none" stroke="#EDBFD3" stroke-width="1.4"/>
<circle cx="-11" cy="1" r="1.3" fill="#EDBFD3"/><circle cx="9" cy="3" r="1.3" fill="#EDBFD3"/><circle cx="12" cy="-2.5" r="1" fill="#EDBFD3"/>
</g>
<path transform="translate(0 90.7)" d="M1321 842C1312 845 1309 853 1314 856C1320 859 1324 851 1328 849.5C1333 848.5 1336 856 1332.5 863.5" fill="none" stroke="#F8C5DB" stroke-width="3.8" stroke-linecap="butt"/>
<g transform="translate(1333.1 1014.5) rotate(-42)">
<path d="M-6.8 -13.7L-9 -18.1L-11.2 -13.7ZM-8.2 13.7L-6 18.1L-3.8 13.7ZM2.2 -13.7L0 -18.1L-2.2 -13.7ZM0.8 13.7L3 18.1L5.2 13.7ZM11.2 -13.7L9 -18.1L6.8 -13.7ZM9.8 13.7L12 18.1L14.2 13.7ZM21.7 -10L22.4 -14.8L18.1 -12.5ZM-18.1 -12.5L-22.4 -14.8L-21.7 -10ZM25.7 2.2L30.1 0L25.7 -2.2ZM-25.7 -2.2L-30.1 0L-25.7 2.2ZM18.1 12.5L22.4 14.8L21.7 10ZM-21.7 10L-22.4 14.8L-18.1 12.5Z" fill="#B57DBA"/>
<rect x="-24.7" y="-12.7" width="49.4" height="25.4" rx="12.7" fill="#F0E6F0" stroke="#B57DBA" stroke-width="4.8"/>
<rect x="-19" y="-7.2" width="38" height="14.4" rx="7.2" fill="none" stroke="#B08AB5" stroke-width="1.7"/>
<path d="M-6 0.5l2.2-1.8l2.2 1.8l2.2-1.8l2.2 1.8l2.2-1.8" fill="none" stroke="#B08AB5" stroke-width="1.4"/>
<circle cx="-11" cy="1" r="1.3" fill="#B08AB5"/><circle cx="9" cy="3" r="1.3" fill="#B08AB5"/><circle cx="12" cy="-2.5" r="1" fill="#B08AB5"/>
</g>
<path transform="translate(-2 191.6)" d="M1321 842C1312 845 1309 853 1314 856C1320 859 1324 851 1328 849.5C1333 848.5 1336 856 1332.5 863.5" fill="none" stroke="#B57DBA" stroke-width="3.8" stroke-linecap="butt"/>
<g transform="translate(1335.1 1102.9) rotate(-42)">
<path d="M-6.8 -13.7L-9 -18.1L-11.2 -13.7ZM-8.2 13.7L-6 18.1L-3.8 13.7ZM2.2 -13.7L0 -18.1L-2.2 -13.7ZM0.8 13.7L3 18.1L5.2 13.7ZM11.2 -13.7L9 -18.1L6.8 -13.7ZM9.8 13.7L12 18.1L14.2 13.7ZM21.7 -10L22.4 -14.8L18.1 -12.5ZM-18.1 -12.5L-22.4 -14.8L-21.7 -10ZM25.7 2.2L30.1 0L25.7 -2.2ZM-25.7 -2.2L-30.1 0L-25.7 2.2ZM18.1 12.5L22.4 14.8L21.7 10ZM-21.7 10L-22.4 14.8L-18.1 12.5Z" fill="#C6E6BF"/>
<rect x="-24.7" y="-12.7" width="49.4" height="25.4" rx="12.7" fill="#EEF8EA" stroke="#C6E6BF" stroke-width="4.8"/>
<rect x="-19" y="-7.2" width="38" height="14.4" rx="7.2" fill="none" stroke="#C0DDBB" stroke-width="1.7"/>
<path d="M-6 0.5l2.2-1.8l2.2 1.8l2.2-1.8l2.2 1.8l2.2-1.8" fill="none" stroke="#C0DDBB" stroke-width="1.4"/>
<circle cx="-11" cy="1" r="1.3" fill="#C0DDBB"/><circle cx="9" cy="3" r="1.3" fill="#C0DDBB"/><circle cx="12" cy="-2.5" r="1" fill="#C0DDBB"/>
</g>
<path transform="translate(0 280)" d="M1321 842C1312 845 1309 853 1314 856C1320 859 1324 851 1328 849.5C1333 848.5 1336 856 1332.5 863.5" fill="none" stroke="#C6E6BF" stroke-width="3.8" stroke-linecap="butt"/>
<path d="M1121.4 385.3C1127 397 1141 416 1141 427.3A19.6 19.6 0 0 1 1101.8 427.3C1101.8 416 1116 397 1121.4 385.3Z" fill="#E0230B"/>
<path d="M1110.7 426.6C1112.5 432.5 1116.5 436 1122 437.4" fill="none" stroke="#FFC9C0" stroke-width="1.6" stroke-linecap="round"/>
<path d="M1123.9 769.5C1126.5 774 1129 775 1130 778.5C1136.5 778 1141 783.5 1138.8 790.5C1145.5 791 1148.5 798.5 1144.5 803.5C1150.5 805 1152 813 1146.5 818.3H1096.5C1091 813 1092.5 805 1098.6 803.5C1095 798.5 1098 791 1104.5 790.5C1102.5 783.5 1107 778 1113.5 778.5C1116 774.5 1121 774.5 1123.9 769.5Z" fill="#A9D962"/>
<g fill="none" stroke="#F8C3DA" stroke-width="4.4" stroke-linecap="round">
<path d="M1102.9 886.5C1101.5 873 1110.5 863.8 1121.7 863.8C1134 863.8 1142.5 874 1140 886C1138 896 1131 901 1129.5 907C1128 913.5 1124.5 917 1119.5 916.5C1113.5 916 1109.5 911.5 1108.8 905.5"/>
<path d="M1112.8 882.5C1112.5 877.5 1116 874.3 1120 874.5C1124 874.7 1126.8 877 1127 880" stroke-width="3.6"/>
<path d="M1118 884V894.5" stroke-width="3.6"/>
</g>
<path d="M1094.6 992.6C1100.5 985 1105.5 976.5 1112.6 975.5C1116.5 975 1118.8 978.2 1121.2 978.4C1123.6 978.2 1126 975 1130 975.5C1137 976.5 1142 985 1148 992.6C1141 1001.5 1133 1008 1121.2 1008C1109.5 1008 1101.5 1001.5 1094.6 992.6Z" fill="#F4E4F4" stroke="#BF90C4" stroke-width="2.4" stroke-linejoin="round"/>
<path d="M1098.5 992.5C1106 987.5 1113 985.5 1121.2 985.5C1129.5 985.5 1137 987.5 1144.3 992.5" fill="none" stroke="#BF90C4" stroke-width="2"/>
<path d="M1100.5 992C1108 990.5 1134 990.5 1142.3 992C1134 996.5 1108 996.5 1100.5 992Z" fill="#C598C9"/>
<g fill="none" stroke="#CCEBC6" stroke-width="3.6" stroke-linecap="round" stroke-linejoin="round">
<path d="M1112.6 1072.5C1112.8 1080 1112 1087 1109 1092C1105 1098 1099.5 1101.5 1100.3 1107.5C1101 1113 1106.5 1116 1111.5 1114.3"/>
<path d="M1130 1072.5C1129.8 1080 1130.6 1087 1133.6 1092C1137.6 1098 1143.1 1101.5 1142.3 1107.5C1141.6 1113 1136.1 1116 1131.1 1114.3"/>
<path d="M1109.5 1103.5C1113 1103 1115 1109 1121.2 1109.6C1127.5 1109 1129.5 1103 1133 1103.5"/>
</g>
<circle cx="1114.8" cy="1093.5" r="2" fill="#CCEBC6"/>
</svg></body></html>
